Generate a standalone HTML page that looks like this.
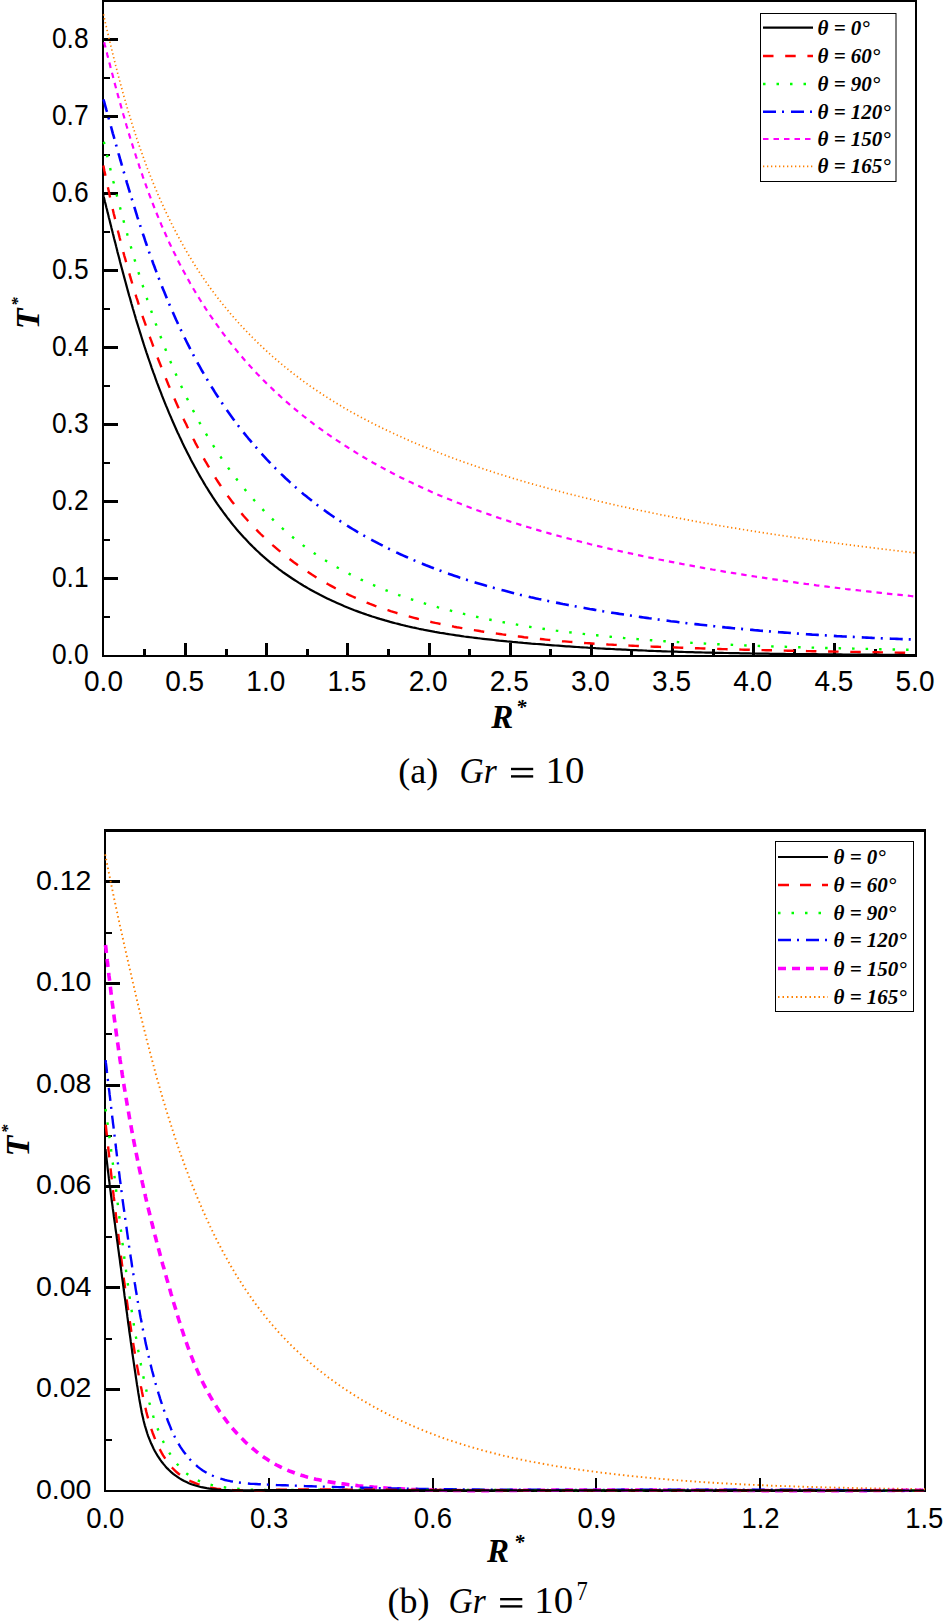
<!DOCTYPE html>
<html><head><meta charset="utf-8"><style>
html,body{margin:0;padding:0;background:#fff;width:943px;height:1621px;overflow:hidden}
svg{display:block}
</style></head><body>
<svg width="943" height="1621" viewBox="0 0 943 1621">
<rect width="943" height="1621" fill="#fff"/>
<rect x="102" y="0" width="815" height="2" fill="#000"/>
<rect x="102" y="0" width="2" height="657" fill="#000"/>
<rect x="915" y="0" width="2" height="657" fill="#000"/>
<rect x="102" y="655" width="815" height="2" fill="#000"/>
<rect x="104" y="616" width="6" height="2" fill="#000"/>
<rect x="104" y="577" width="14" height="3" fill="#000"/>
<rect x="104" y="539" width="6" height="2" fill="#000"/>
<rect x="104" y="500" width="14" height="3" fill="#000"/>
<rect x="104" y="462" width="6" height="2" fill="#000"/>
<rect x="104" y="423" width="14" height="3" fill="#000"/>
<rect x="104" y="385" width="6" height="2" fill="#000"/>
<rect x="104" y="346" width="14" height="3" fill="#000"/>
<rect x="104" y="308" width="6" height="2" fill="#000"/>
<rect x="104" y="269" width="14" height="3" fill="#000"/>
<rect x="104" y="231" width="6" height="2" fill="#000"/>
<rect x="104" y="192" width="14" height="3" fill="#000"/>
<rect x="104" y="154" width="6" height="2" fill="#000"/>
<rect x="104" y="115" width="14" height="3" fill="#000"/>
<rect x="104" y="77" width="6" height="2" fill="#000"/>
<rect x="104" y="38" width="14" height="3" fill="#000"/>
<rect x="143" y="649" width="3" height="6" fill="#000"/>
<rect x="184" y="643" width="3" height="12" fill="#000"/>
<rect x="225" y="649" width="3" height="6" fill="#000"/>
<rect x="265" y="643" width="3" height="12" fill="#000"/>
<rect x="306" y="649" width="3" height="6" fill="#000"/>
<rect x="346" y="643" width="3" height="12" fill="#000"/>
<rect x="387" y="649" width="3" height="6" fill="#000"/>
<rect x="428" y="643" width="3" height="12" fill="#000"/>
<rect x="468" y="649" width="3" height="6" fill="#000"/>
<rect x="509" y="643" width="3" height="12" fill="#000"/>
<rect x="549" y="649" width="3" height="6" fill="#000"/>
<rect x="590" y="643" width="3" height="12" fill="#000"/>
<rect x="630" y="649" width="3" height="6" fill="#000"/>
<rect x="671" y="643" width="3" height="12" fill="#000"/>
<rect x="712" y="649" width="3" height="6" fill="#000"/>
<rect x="752" y="643" width="3" height="12" fill="#000"/>
<rect x="793" y="649" width="3" height="6" fill="#000"/>
<rect x="833" y="643" width="3" height="12" fill="#000"/>
<rect x="874" y="649" width="3" height="6" fill="#000"/>
<text transform="translate(88.60 664.30) scale(1 1.12)" font-family="Liberation Sans, sans-serif" font-size="26.4" text-anchor="end">0.0</text>
<text transform="translate(88.60 587.23) scale(1 1.12)" font-family="Liberation Sans, sans-serif" font-size="26.4" text-anchor="end">0.1</text>
<text transform="translate(88.60 510.16) scale(1 1.12)" font-family="Liberation Sans, sans-serif" font-size="26.4" text-anchor="end">0.2</text>
<text transform="translate(88.60 433.09) scale(1 1.12)" font-family="Liberation Sans, sans-serif" font-size="26.4" text-anchor="end">0.3</text>
<text transform="translate(88.60 356.02) scale(1 1.12)" font-family="Liberation Sans, sans-serif" font-size="26.4" text-anchor="end">0.4</text>
<text transform="translate(88.60 278.95) scale(1 1.12)" font-family="Liberation Sans, sans-serif" font-size="26.4" text-anchor="end">0.5</text>
<text transform="translate(88.60 201.88) scale(1 1.12)" font-family="Liberation Sans, sans-serif" font-size="26.4" text-anchor="end">0.6</text>
<text transform="translate(88.60 124.81) scale(1 1.12)" font-family="Liberation Sans, sans-serif" font-size="26.4" text-anchor="end">0.7</text>
<text transform="translate(88.60 47.74) scale(1 1.12)" font-family="Liberation Sans, sans-serif" font-size="26.4" text-anchor="end">0.8</text>
<text transform="translate(103.50 690.80) scale(1 1.06)" font-family="Liberation Sans, sans-serif" font-size="28" text-anchor="middle">0.0</text>
<text transform="translate(184.65 690.80) scale(1 1.06)" font-family="Liberation Sans, sans-serif" font-size="28" text-anchor="middle">0.5</text>
<text transform="translate(265.80 690.80) scale(1 1.06)" font-family="Liberation Sans, sans-serif" font-size="28" text-anchor="middle">1.0</text>
<text transform="translate(346.95 690.80) scale(1 1.06)" font-family="Liberation Sans, sans-serif" font-size="28" text-anchor="middle">1.5</text>
<text transform="translate(428.10 690.80) scale(1 1.06)" font-family="Liberation Sans, sans-serif" font-size="28" text-anchor="middle">2.0</text>
<text transform="translate(509.25 690.80) scale(1 1.06)" font-family="Liberation Sans, sans-serif" font-size="28" text-anchor="middle">2.5</text>
<text transform="translate(590.40 690.80) scale(1 1.06)" font-family="Liberation Sans, sans-serif" font-size="28" text-anchor="middle">3.0</text>
<text transform="translate(671.55 690.80) scale(1 1.06)" font-family="Liberation Sans, sans-serif" font-size="28" text-anchor="middle">3.5</text>
<text transform="translate(752.70 690.80) scale(1 1.06)" font-family="Liberation Sans, sans-serif" font-size="28" text-anchor="middle">4.0</text>
<text transform="translate(833.85 690.80) scale(1 1.06)" font-family="Liberation Sans, sans-serif" font-size="28" text-anchor="middle">4.5</text>
<text transform="translate(915.00 690.80) scale(1 1.06)" font-family="Liberation Sans, sans-serif" font-size="28" text-anchor="middle">5.0</text>
<text x="491.3" y="728" font-family="Liberation Serif, serif" font-size="33" font-weight="bold" font-style="italic">R</text>
<text x="516" y="713.8" font-family="Liberation Serif, serif" font-size="21" font-weight="bold" font-style="italic">*</text>
<g transform="translate(39.3,329.3) rotate(-90)"><text x="0" y="0" font-family="Liberation Serif, serif" font-size="34" font-weight="bold" font-style="italic">T</text><text x="23.35" y="-16.15" font-family="Liberation Serif, serif" font-size="17.5" font-weight="bold" font-style="italic">*</text></g>
<path d="M103.5 14.3 L104.1 16.9 L104.6 19.5 L105.2 22.1 L105.8 24.6 L106.4 27.2 L107.0 29.8 L107.6 32.4 L108.2 35.0 L108.8 37.6 L109.5 40.1 L110.1 42.7 L110.7 45.3 L111.3 47.9 L112.0 50.5 L112.6 53.1 L113.2 55.7 L113.9 58.3 L114.5 60.9 L115.2 63.4 L115.8 66.0 L116.5 68.6 L117.2 71.2 L117.8 73.8 L118.5 76.4 L119.2 79.0 L119.9 81.6 L120.6 84.2 L121.3 86.8 L122.0 89.3 L122.7 91.9 L123.4 94.5 L124.1 97.1 L124.9 99.7 L125.6 102.3 L126.4 104.8 L127.1 107.4 L127.9 110.0 L128.6 112.6 L129.4 115.1 L130.2 117.7 L131.0 120.3 L131.8 122.9 L132.6 125.4 L133.4 128.0 L134.2 130.6 L135.0 133.1 L135.9 135.7 L136.7 138.2 L137.6 140.8 L138.4 143.3 L139.3 145.9 L140.2 148.4 L141.1 151.0 L142.0 153.5 L142.9 156.0 L143.8 158.6 L144.7 161.1 L145.6 163.6 L146.6 166.1 L147.5 168.7 L148.5 171.2 L149.5 173.7 L150.5 176.2 L151.5 178.7 L152.5 181.2 L153.5 183.7 L154.5 186.2 L155.5 188.7 L156.6 191.2 L157.6 193.6 L158.7 196.1 L159.8 198.6 L160.9 201.0 L162.0 203.5 L163.1 205.9 L164.2 208.4 L165.4 210.8 L166.5 213.3 L167.7 215.7 L168.8 218.1 L170.0 220.5 L171.2 222.9 L172.4 225.3 L173.6 227.7 L174.9 230.1 L176.1 232.5 L177.4 234.9 L178.6 237.2 L179.9 239.6 L181.2 242.0 L182.5 244.3 L183.8 246.6 L185.1 249.0 L186.5 251.3 L187.8 253.6 L189.2 255.9 L190.6 258.2 L192.0 260.5 L193.4 262.8 L194.8 265.0 L196.2 267.3 L197.7 269.6 L199.1 271.8 L200.6 274.0 L202.1 276.2 L203.6 278.5 L205.1 280.7 L206.6 282.9 L208.2 285.0 L209.7 287.2 L211.3 289.4 L212.9 291.5 L214.5 293.7 L216.1 295.8 L217.7 297.9 L219.4 300.0 L221.0 302.1 L222.7 304.2 L224.4 306.3 L226.1 308.4 L227.8 310.4 L229.5 312.5 L231.2 314.5 L233.0 316.5 L234.7 318.5 L236.5 320.5 L238.3 322.5 L240.1 324.5 L241.9 326.5 L243.7 328.4 L245.6 330.4 L247.4 332.3 L249.3 334.2 L251.2 336.1 L253.0 338.0 L254.9 339.9 L256.8 341.8 L258.8 343.7 L260.7 345.5 L262.6 347.3 L264.6 349.2 L266.6 351.0 L268.5 352.8 L270.5 354.6 L272.5 356.4 L274.5 358.1 L276.6 359.9 L278.6 361.6 L280.6 363.3 L282.7 365.1 L284.8 366.8 L286.8 368.4 L288.9 370.1 L291.0 371.8 L293.1 373.4 L295.2 375.1 L297.4 376.7 L299.5 378.3 L301.7 379.9 L303.8 381.5 L306.0 383.1 L308.2 384.6 L310.3 386.2 L312.5 387.7 L314.8 389.2 L317.0 390.7 L319.2 392.2 L321.4 393.7 L323.7 395.2 L325.9 396.6 L328.2 398.1 L330.4 399.5 L332.7 400.9 L335.0 402.3 L337.3 403.7 L339.6 405.1 L341.9 406.5 L344.2 407.9 L346.5 409.2 L348.9 410.5 L351.2 411.9 L353.6 413.2 L355.9 414.5 L358.3 415.8 L360.6 417.0 L363.0 418.3 L365.4 419.6 L367.8 420.8 L370.1 422.1 L372.5 423.3 L374.9 424.5 L377.4 425.7 L379.8 426.9 L382.2 428.1 L384.6 429.3 L387.0 430.4 L389.5 431.6 L391.9 432.7 L394.4 433.9 L396.8 435.0 L399.3 436.1 L401.7 437.2 L404.2 438.3 L406.7 439.4 L409.1 440.5 L411.6 441.6 L414.1 442.6 L416.6 443.7 L419.0 444.7 L421.5 445.8 L424.0 446.8 L426.5 447.8 L429.0 448.8 L431.5 449.8 L434.0 450.8 L436.5 451.8 L439.0 452.8 L441.5 453.8 L444.1 454.7 L446.6 455.7 L449.1 456.7 L451.6 457.6 L454.1 458.5 L456.7 459.5 L459.2 460.4 L461.7 461.3 L464.2 462.2 L466.8 463.1 L469.3 464.0 L471.9 464.9 L474.4 465.8 L476.9 466.6 L479.5 467.5 L482.0 468.4 L484.6 469.2 L487.1 470.1 L489.7 470.9 L492.2 471.7 L494.8 472.6 L497.3 473.4 L499.9 474.2 L502.5 475.0 L505.0 475.8 L507.6 476.6 L510.1 477.4 L512.7 478.2 L515.3 479.0 L517.8 479.7 L520.4 480.5 L523.0 481.3 L525.6 482.0 L528.1 482.8 L530.7 483.5 L533.3 484.2 L535.9 485.0 L538.5 485.7 L541.1 486.4 L543.6 487.1 L546.2 487.8 L548.8 488.6 L551.4 489.3 L554.0 489.9 L556.6 490.6 L559.2 491.3 L561.8 492.0 L564.4 492.7 L567.0 493.4 L569.6 494.0 L572.2 494.7 L574.8 495.3 L577.4 496.0 L580.0 496.6 L582.6 497.3 L585.2 497.9 L587.8 498.6 L590.4 499.2 L593.0 499.8 L595.6 500.4 L598.2 501.1 L600.8 501.7 L603.4 502.3 L606.1 502.9 L608.7 503.5 L611.3 504.1 L613.9 504.7 L616.5 505.3 L619.1 505.9 L621.8 506.5 L624.4 507.0 L627.0 507.6 L629.6 508.2 L632.2 508.8 L634.9 509.3 L637.5 509.9 L640.1 510.4 L642.7 511.0 L645.4 511.5 L648.0 512.1 L650.6 512.6 L653.2 513.2 L655.9 513.7 L658.5 514.2 L661.1 514.8 L663.8 515.3 L666.4 515.8 L669.0 516.3 L671.7 516.8 L674.3 517.4 L676.9 517.9 L679.6 518.4 L682.2 518.9 L684.8 519.4 L687.5 519.9 L690.1 520.4 L692.8 520.8 L695.4 521.3 L698.0 521.8 L700.7 522.3 L703.3 522.8 L706.0 523.2 L708.6 523.7 L711.3 524.2 L713.9 524.6 L716.5 525.1 L719.2 525.6 L721.8 526.0 L724.5 526.5 L727.1 526.9 L729.8 527.4 L732.4 527.8 L735.1 528.2 L737.7 528.7 L740.4 529.1 L743.0 529.5 L745.7 530.0 L748.3 530.4 L751.0 530.8 L753.6 531.2 L756.3 531.7 L758.9 532.1 L761.6 532.5 L764.2 532.9 L766.9 533.3 L769.6 533.7 L772.2 534.1 L774.9 534.5 L777.5 534.9 L780.2 535.3 L782.8 535.7 L785.5 536.1 L788.2 536.5 L790.8 536.9 L793.5 537.3 L796.1 537.7 L798.8 538.0 L801.4 538.4 L804.1 538.8 L806.8 539.2 L809.4 539.5 L812.1 539.9 L814.7 540.3 L817.4 540.6 L820.1 541.0 L822.7 541.4 L825.4 541.7 L828.1 542.1 L830.7 542.4 L833.4 542.8 L836.0 543.1 L838.7 543.5 L841.4 543.8 L844.0 544.2 L846.7 544.5 L849.4 544.9 L852.0 545.2 L854.7 545.6 L857.4 545.9 L860.0 546.2 L862.7 546.6 L865.4 546.9 L868.0 547.2 L870.7 547.6 L873.3 547.9 L876.0 548.2 L878.7 548.6 L881.3 548.9 L884.0 549.2 L886.7 549.5 L889.3 549.8 L892.0 550.2 L894.7 550.5 L897.3 550.8 L900.0 551.1 L902.7 551.4 L905.3 551.7 L908.0 552.1 L910.7 552.4 L913.3 552.7 L916.0 553.0" fill="none" stroke="#FF8000" stroke-width="1.7" stroke-dasharray="1.3 2.7" stroke-linejoin="round"/>
<path d="M104.2 42.2 L104.8 44.8 L105.5 47.4 L106.1 50.0 L106.8 52.5 L107.4 55.1 L108.1 57.7 L108.7 60.3 L109.4 62.8 L110.1 65.4 L110.7 68.0 L111.4 70.6 L112.1 73.2 L112.8 75.8 L113.4 78.4 L114.1 81.0 L114.8 83.6 L115.5 86.2 L116.2 88.8 L116.9 91.4 L117.6 94.0 L118.3 96.6 L119.0 99.2 L119.8 101.8 L120.5 104.4 L121.2 107.0 L121.9 109.6 L122.7 112.2 L123.4 114.8 L124.2 117.4 L124.9 120.0 L125.7 122.6 L126.4 125.2 L127.2 127.8 L128.0 130.4 L128.7 133.0 L129.5 135.6 L130.3 138.2 L131.1 140.8 L131.9 143.4 L132.7 145.9 L133.5 148.5 L134.4 151.1 L135.2 153.7 L136.0 156.3 L136.9 158.9 L137.7 161.5 L138.6 164.0 L139.4 166.6 L140.3 169.2 L141.2 171.8 L142.1 174.3 L142.9 176.9 L143.9 179.5 L144.8 182.0 L145.7 184.6 L146.6 187.2 L147.5 189.7 L148.5 192.3 L149.4 194.8 L150.4 197.4 L151.4 199.9 L152.3 202.4 L153.3 205.0 L154.3 207.5 L155.3 210.0 L156.3 212.5 L157.3 215.0 L158.4 217.6 L159.4 220.1 L160.5 222.6 L161.5 225.1 L162.6 227.6 L163.7 230.0 L164.8 232.5 L165.9 235.0 L167.0 237.5 L168.1 239.9 L169.2 242.4 L170.4 244.9 L171.5 247.3 L172.7 249.8 L173.9 252.2 L175.1 254.6 L176.3 257.0 L177.5 259.5 L178.7 261.9 L179.9 264.3 L181.2 266.7 L182.4 269.1 L183.7 271.5 L185.0 273.8 L186.3 276.2 L187.6 278.6 L188.9 280.9 L190.2 283.3 L191.6 285.6 L192.9 288.0 L194.3 290.3 L195.7 292.6 L197.1 294.9 L198.5 297.2 L199.9 299.5 L201.4 301.8 L202.8 304.1 L204.3 306.4 L205.7 308.6 L207.2 310.9 L208.7 313.1 L210.2 315.4 L211.8 317.6 L213.3 319.8 L214.8 322.0 L216.4 324.2 L218.0 326.4 L219.6 328.6 L221.2 330.8 L222.8 333.0 L224.4 335.1 L226.0 337.3 L227.7 339.4 L229.3 341.5 L231.0 343.6 L232.7 345.7 L234.4 347.8 L236.1 349.9 L237.8 352.0 L239.6 354.1 L241.3 356.1 L243.1 358.2 L244.8 360.2 L246.6 362.2 L248.4 364.2 L250.2 366.3 L252.1 368.2 L253.9 370.2 L255.7 372.2 L257.6 374.2 L259.5 376.1 L261.3 378.0 L263.2 380.0 L265.1 381.9 L267.0 383.8 L269.0 385.7 L270.9 387.5 L272.9 389.4 L274.8 391.3 L276.8 393.1 L278.8 394.9 L280.8 396.8 L282.8 398.6 L284.8 400.4 L286.8 402.1 L288.9 403.9 L290.9 405.7 L293.0 407.4 L295.0 409.2 L297.1 410.9 L299.2 412.6 L301.3 414.3 L303.4 416.0 L305.6 417.7 L307.7 419.3 L309.8 421.0 L312.0 422.6 L314.1 424.3 L316.3 425.9 L318.5 427.5 L320.7 429.1 L322.9 430.7 L325.1 432.2 L327.3 433.8 L329.5 435.3 L331.7 436.9 L334.0 438.4 L336.2 439.9 L338.5 441.4 L340.7 442.9 L343.0 444.4 L345.3 445.9 L347.6 447.3 L349.9 448.8 L352.2 450.2 L354.5 451.6 L356.8 453.1 L359.1 454.5 L361.4 455.9 L363.7 457.2 L366.1 458.6 L368.4 460.0 L370.8 461.3 L373.1 462.7 L375.5 464.0 L377.8 465.3 L380.2 466.6 L382.6 467.9 L385.0 469.2 L387.3 470.5 L389.7 471.7 L392.1 473.0 L394.5 474.2 L396.9 475.5 L399.3 476.7 L401.7 477.9 L404.2 479.1 L406.6 480.3 L409.0 481.5 L411.5 482.6 L413.9 483.8 L416.3 484.9 L418.8 486.1 L421.2 487.2 L423.7 488.3 L426.1 489.5 L428.6 490.6 L431.1 491.7 L433.6 492.8 L436.0 493.8 L438.5 494.9 L441.0 496.0 L443.5 497.0 L446.0 498.0 L448.5 499.1 L451.0 500.1 L453.5 501.1 L456.0 502.1 L458.5 503.1 L461.0 504.1 L463.5 505.1 L466.1 506.1 L468.6 507.0 L471.1 508.0 L473.7 508.9 L476.2 509.9 L478.7 510.8 L481.3 511.7 L483.8 512.6 L486.4 513.5 L488.9 514.4 L491.5 515.3 L494.0 516.2 L496.6 517.1 L499.2 518.0 L501.7 518.8 L504.3 519.7 L506.9 520.5 L509.5 521.4 L512.0 522.2 L514.6 523.0 L517.2 523.8 L519.8 524.6 L522.4 525.5 L525.0 526.3 L527.6 527.0 L530.2 527.8 L532.8 528.6 L535.4 529.4 L538.0 530.1 L540.6 530.9 L543.2 531.6 L545.8 532.4 L548.4 533.1 L551.0 533.9 L553.6 534.6 L556.3 535.3 L558.9 536.0 L561.5 536.7 L564.1 537.4 L566.7 538.1 L569.4 538.8 L572.0 539.5 L574.6 540.2 L577.2 540.9 L579.9 541.5 L582.5 542.2 L585.1 542.9 L587.8 543.5 L590.4 544.2 L593.1 544.8 L595.7 545.5 L598.3 546.1 L601.0 546.7 L603.6 547.3 L606.3 548.0 L608.9 548.6 L611.5 549.2 L614.2 549.8 L616.8 550.4 L619.5 551.0 L622.1 551.6 L624.8 552.2 L627.4 552.8 L630.1 553.3 L632.7 553.9 L635.4 554.5 L638.0 555.1 L640.7 555.6 L643.3 556.2 L646.0 556.7 L648.6 557.3 L651.3 557.8 L653.9 558.4 L656.6 558.9 L659.2 559.5 L661.9 560.0 L664.5 560.5 L667.2 561.1 L669.8 561.6 L672.5 562.1 L675.1 562.6 L677.8 563.1 L680.4 563.6 L683.1 564.2 L685.7 564.7 L688.4 565.2 L691.1 565.6 L693.7 566.1 L696.4 566.6 L699.0 567.1 L701.7 567.6 L704.3 568.1 L707.0 568.5 L709.7 569.0 L712.3 569.5 L715.0 569.9 L717.6 570.4 L720.3 570.9 L723.0 571.3 L725.6 571.8 L728.3 572.2 L730.9 572.7 L733.6 573.1 L736.3 573.5 L738.9 574.0 L741.6 574.4 L744.3 574.8 L746.9 575.3 L749.6 575.7 L752.2 576.1 L754.9 576.5 L757.6 576.9 L760.3 577.3 L762.9 577.7 L765.6 578.1 L768.3 578.6 L770.9 578.9 L773.6 579.3 L776.3 579.7 L778.9 580.1 L781.6 580.5 L784.3 580.9 L787.0 581.3 L789.6 581.7 L792.3 582.0 L795.0 582.4 L797.7 582.8 L800.3 583.1 L803.0 583.5 L805.7 583.9 L808.4 584.2 L811.1 584.6 L813.7 584.9 L816.4 585.3 L819.1 585.6 L821.8 586.0 L824.5 586.3 L827.1 586.6 L829.8 587.0 L832.5 587.3 L835.2 587.7 L837.9 588.0 L840.6 588.3 L843.3 588.6 L846.0 589.0 L848.6 589.3 L851.3 589.6 L854.0 589.9 L856.7 590.2 L859.4 590.5 L862.1 590.8 L864.8 591.1 L867.5 591.4 L870.2 591.7 L872.9 592.0 L875.6 592.3 L878.3 592.6 L881.0 592.9 L883.7 593.2 L886.4 593.5 L889.1 593.8 L891.8 594.1 L894.5 594.3 L897.2 594.6 L899.9 594.9 L902.6 595.2 L905.3 595.4 L908.0 595.7 L910.7 596.0 L913.4 596.3 L916.2 596.5" fill="none" stroke="#FF00FF" stroke-width="2.2" stroke-dasharray="5.5 5" stroke-linejoin="round"/>
<path d="M103.4 99.3 L104.2 101.9 L104.9 104.5 L105.6 107.1 L106.3 109.7 L107.1 112.3 L107.8 114.9 L108.5 117.6 L109.2 120.2 L109.9 122.8 L110.7 125.4 L111.4 128.0 L112.1 130.6 L112.8 133.3 L113.6 135.9 L114.3 138.5 L115.0 141.1 L115.8 143.8 L116.5 146.4 L117.2 149.0 L118.0 151.6 L118.7 154.2 L119.5 156.9 L120.2 159.5 L121.0 162.1 L121.7 164.7 L122.5 167.4 L123.2 170.0 L124.0 172.6 L124.7 175.2 L125.5 177.8 L126.3 180.5 L127.0 183.1 L127.8 185.7 L128.6 188.3 L129.4 190.9 L130.2 193.6 L131.0 196.2 L131.8 198.8 L132.6 201.4 L133.4 204.0 L134.2 206.6 L135.0 209.2 L135.8 211.8 L136.6 214.4 L137.4 217.1 L138.3 219.7 L139.1 222.3 L140.0 224.9 L140.8 227.5 L141.7 230.1 L142.5 232.7 L143.4 235.3 L144.3 237.8 L145.1 240.4 L146.0 243.0 L146.9 245.6 L147.8 248.2 L148.7 250.8 L149.6 253.4 L150.5 255.9 L151.5 258.5 L152.4 261.1 L153.3 263.7 L154.3 266.2 L155.2 268.8 L156.2 271.4 L157.2 273.9 L158.1 276.5 L159.1 279.0 L160.1 281.6 L161.1 284.1 L162.1 286.7 L163.1 289.2 L164.2 291.8 L165.2 294.3 L166.2 296.8 L167.3 299.4 L168.3 301.9 L169.4 304.4 L170.5 306.9 L171.6 309.4 L172.7 312.0 L173.8 314.5 L174.9 317.0 L176.0 319.5 L177.2 322.0 L178.3 324.5 L179.5 326.9 L180.6 329.4 L181.8 331.9 L183.0 334.4 L184.2 336.8 L185.4 339.3 L186.6 341.8 L187.8 344.2 L189.1 346.7 L190.3 349.1 L191.6 351.5 L192.8 353.9 L194.1 356.4 L195.4 358.8 L196.7 361.2 L198.0 363.6 L199.4 366.0 L200.7 368.4 L202.0 370.8 L203.4 373.1 L204.8 375.5 L206.2 377.9 L207.6 380.2 L209.0 382.6 L210.4 384.9 L211.8 387.2 L213.3 389.5 L214.7 391.9 L216.2 394.2 L217.7 396.5 L219.2 398.7 L220.7 401.0 L222.2 403.3 L223.7 405.6 L225.3 407.8 L226.8 410.1 L228.4 412.3 L230.0 414.5 L231.6 416.7 L233.2 418.9 L234.8 421.1 L236.5 423.3 L238.1 425.5 L239.8 427.7 L241.5 429.8 L243.2 432.0 L244.9 434.1 L246.6 436.2 L248.3 438.3 L250.1 440.4 L251.8 442.5 L253.6 444.6 L255.4 446.7 L257.2 448.7 L259.0 450.8 L260.8 452.8 L262.6 454.8 L264.5 456.9 L266.3 458.9 L268.2 460.8 L270.1 462.8 L272.0 464.8 L273.9 466.7 L275.8 468.7 L277.7 470.6 L279.7 472.5 L281.6 474.4 L283.6 476.3 L285.6 478.2 L287.6 480.0 L289.6 481.9 L291.6 483.7 L293.6 485.5 L295.6 487.3 L297.7 489.1 L299.8 490.9 L301.8 492.6 L303.9 494.4 L306.0 496.1 L308.1 497.8 L310.3 499.5 L312.4 501.2 L314.5 502.9 L316.7 504.6 L318.9 506.2 L321.0 507.8 L323.2 509.4 L325.4 511.0 L327.6 512.6 L329.9 514.2 L332.1 515.7 L334.3 517.3 L336.6 518.8 L338.9 520.3 L341.1 521.8 L343.4 523.3 L345.7 524.7 L348.0 526.2 L350.3 527.6 L352.6 529.0 L355.0 530.4 L357.3 531.8 L359.7 533.2 L362.0 534.6 L364.4 535.9 L366.8 537.2 L369.2 538.6 L371.6 539.9 L374.0 541.2 L376.4 542.4 L378.8 543.7 L381.2 544.9 L383.6 546.2 L386.1 547.4 L388.5 548.6 L391.0 549.8 L393.4 551.0 L395.9 552.2 L398.4 553.3 L400.9 554.5 L403.4 555.6 L405.9 556.7 L408.4 557.8 L410.9 558.9 L413.4 560.0 L415.9 561.1 L418.4 562.2 L420.9 563.2 L423.5 564.2 L426.0 565.3 L428.6 566.3 L431.1 567.3 L433.7 568.2 L436.2 569.2 L438.8 570.2 L441.4 571.1 L443.9 572.1 L446.5 573.0 L449.1 573.9 L451.7 574.8 L454.3 575.7 L456.9 576.6 L459.5 577.5 L462.1 578.3 L464.7 579.2 L467.3 580.0 L469.9 580.8 L472.5 581.6 L475.1 582.4 L477.7 583.2 L480.4 584.0 L483.0 584.8 L485.6 585.6 L488.2 586.3 L490.9 587.1 L493.5 587.8 L496.1 588.5 L498.8 589.2 L501.4 590.0 L504.1 590.6 L506.7 591.3 L509.4 592.0 L512.0 592.7 L514.7 593.4 L517.3 594.0 L520.0 594.7 L522.7 595.3 L525.3 595.9 L528.0 596.5 L530.7 597.2 L533.3 597.8 L536.0 598.4 L538.7 599.0 L541.4 599.5 L544.0 600.1 L546.7 600.7 L549.4 601.3 L552.1 601.8 L554.8 602.4 L557.4 602.9 L560.1 603.4 L562.8 604.0 L565.5 604.5 L568.2 605.0 L570.9 605.5 L573.6 606.0 L576.3 606.5 L579.0 607.0 L581.7 607.5 L584.4 608.0 L587.0 608.5 L589.7 609.0 L592.4 609.4 L595.1 609.9 L597.8 610.3 L600.5 610.8 L603.2 611.3 L605.9 611.7 L608.6 612.1 L611.3 612.6 L614.0 613.0 L616.7 613.4 L619.4 613.9 L622.1 614.3 L624.8 614.7 L627.6 615.1 L630.3 615.5 L633.0 615.9 L635.7 616.3 L638.4 616.7 L641.1 617.1 L643.8 617.5 L646.5 617.9 L649.2 618.3 L651.9 618.6 L654.6 619.0 L657.3 619.4 L660.0 619.7 L662.7 620.1 L665.4 620.5 L668.1 620.8 L670.8 621.2 L673.6 621.5 L676.3 621.8 L679.0 622.2 L681.7 622.5 L684.4 622.8 L687.1 623.2 L689.8 623.5 L692.5 623.8 L695.2 624.1 L698.0 624.4 L700.7 624.7 L703.4 625.0 L706.1 625.3 L708.8 625.6 L711.5 625.9 L714.2 626.2 L717.0 626.5 L719.7 626.8 L722.4 627.1 L725.1 627.4 L727.8 627.6 L730.5 627.9 L733.2 628.2 L736.0 628.4 L738.7 628.7 L741.4 628.9 L744.1 629.2 L746.8 629.4 L749.6 629.7 L752.3 629.9 L755.0 630.2 L757.7 630.4 L760.4 630.7 L763.2 630.9 L765.9 631.1 L768.6 631.3 L771.3 631.6 L774.0 631.8 L776.8 632.0 L779.5 632.2 L782.2 632.4 L784.9 632.6 L787.7 632.8 L790.4 633.0 L793.1 633.2 L795.8 633.4 L798.6 633.6 L801.3 633.8 L804.0 634.0 L806.7 634.2 L809.5 634.4 L812.2 634.6 L814.9 634.7 L817.6 634.9 L820.4 635.1 L823.1 635.2 L825.8 635.4 L828.6 635.6 L831.3 635.7 L834.0 635.9 L836.7 636.1 L839.5 636.2 L842.2 636.4 L844.9 636.5 L847.7 636.7 L850.4 636.8 L853.1 636.9 L855.9 637.1 L858.6 637.2 L861.3 637.4 L864.1 637.5 L866.8 637.6 L869.5 637.7 L872.3 637.9 L875.0 638.0 L877.7 638.1 L880.5 638.2 L883.2 638.4 L885.9 638.5 L888.7 638.6 L891.4 638.7 L894.1 638.8 L896.9 638.9 L899.6 639.0 L902.4 639.1 L905.1 639.2 L907.8 639.3 L910.6 639.4 L913.3 639.5 L916.1 639.6" fill="none" stroke="#0000FF" stroke-width="2.6" stroke-dasharray="13 6 2 7" stroke-linejoin="round"/>
<path d="M103.8 141.7 L104.5 144.4 L105.1 147.0 L105.7 149.7 L106.3 152.4 L107.0 155.0 L107.6 157.7 L108.2 160.3 L108.9 163.0 L109.5 165.6 L110.2 168.3 L110.8 171.0 L111.4 173.6 L112.1 176.3 L112.8 178.9 L113.4 181.6 L114.1 184.2 L114.7 186.9 L115.4 189.5 L116.1 192.2 L116.7 194.8 L117.4 197.5 L118.1 200.1 L118.8 202.7 L119.5 205.4 L120.2 208.0 L120.9 210.7 L121.6 213.3 L122.3 215.9 L123.0 218.6 L123.7 221.2 L124.4 223.9 L125.1 226.5 L125.9 229.1 L126.6 231.8 L127.3 234.4 L128.1 237.0 L128.8 239.6 L129.6 242.3 L130.3 244.9 L131.1 247.5 L131.8 250.1 L132.6 252.8 L133.4 255.4 L134.1 258.0 L134.9 260.6 L135.7 263.2 L136.5 265.8 L137.3 268.4 L138.1 271.1 L138.9 273.7 L139.7 276.3 L140.6 278.9 L141.4 281.5 L142.2 284.1 L143.1 286.7 L143.9 289.3 L144.8 291.9 L145.6 294.5 L146.5 297.0 L147.3 299.6 L148.2 302.2 L149.1 304.8 L150.0 307.4 L150.9 310.0 L151.8 312.5 L152.7 315.1 L153.6 317.7 L154.5 320.3 L155.4 322.8 L156.4 325.4 L157.3 328.0 L158.3 330.5 L159.2 333.1 L160.2 335.6 L161.2 338.2 L162.1 340.7 L163.1 343.3 L164.1 345.8 L165.1 348.4 L166.1 350.9 L167.1 353.5 L168.2 356.0 L169.2 358.5 L170.2 361.0 L171.3 363.6 L172.3 366.1 L173.4 368.6 L174.5 371.1 L175.6 373.6 L176.7 376.1 L177.8 378.6 L178.9 381.1 L180.0 383.6 L181.2 386.1 L182.3 388.5 L183.5 391.0 L184.7 393.5 L185.9 395.9 L187.0 398.4 L188.3 400.8 L189.5 403.3 L190.7 405.7 L191.9 408.1 L193.2 410.6 L194.5 413.0 L195.7 415.4 L197.0 417.8 L198.3 420.2 L199.6 422.6 L201.0 425.0 L202.3 427.3 L203.7 429.7 L205.0 432.1 L206.4 434.4 L207.8 436.8 L209.2 439.1 L210.7 441.5 L212.1 443.8 L213.6 446.1 L215.0 448.4 L216.5 450.7 L218.0 453.0 L219.5 455.3 L221.1 457.6 L222.6 459.8 L224.2 462.1 L225.7 464.3 L227.3 466.6 L228.9 468.8 L230.5 471.0 L232.2 473.2 L233.8 475.4 L235.5 477.6 L237.1 479.8 L238.8 481.9 L240.5 484.1 L242.3 486.2 L244.0 488.3 L245.7 490.4 L247.5 492.5 L249.3 494.6 L251.1 496.7 L252.9 498.8 L254.7 500.8 L256.5 502.8 L258.4 504.9 L260.3 506.9 L262.1 508.8 L264.0 510.8 L265.9 512.8 L267.9 514.7 L269.8 516.6 L271.8 518.5 L273.7 520.4 L275.7 522.3 L277.7 524.2 L279.7 526.0 L281.7 527.8 L283.8 529.6 L285.8 531.4 L287.9 533.2 L290.0 535.0 L292.1 536.7 L294.2 538.4 L296.3 540.1 L298.4 541.8 L300.6 543.4 L302.7 545.1 L304.9 546.7 L307.1 548.3 L309.3 549.9 L311.5 551.4 L313.8 553.0 L316.0 554.5 L318.3 556.0 L320.6 557.4 L322.8 558.9 L325.1 560.3 L327.5 561.8 L329.8 563.1 L332.1 564.5 L334.5 565.9 L336.8 567.2 L339.2 568.5 L341.6 569.8 L344.0 571.1 L346.4 572.4 L348.8 573.6 L351.2 574.9 L353.7 576.1 L356.1 577.3 L358.6 578.4 L361.0 579.6 L363.5 580.7 L366.0 581.9 L368.5 583.0 L371.0 584.1 L373.5 585.1 L376.0 586.2 L378.5 587.2 L381.1 588.3 L383.6 589.3 L386.1 590.3 L388.7 591.3 L391.3 592.2 L393.8 593.2 L396.4 594.1 L399.0 595.1 L401.6 596.0 L404.1 596.9 L406.7 597.8 L409.3 598.6 L412.0 599.5 L414.6 600.3 L417.2 601.2 L419.8 602.0 L422.4 602.8 L425.0 603.6 L427.7 604.4 L430.3 605.1 L432.9 605.9 L435.6 606.6 L438.2 607.4 L440.9 608.1 L443.5 608.8 L446.2 609.5 L448.8 610.2 L451.5 610.9 L454.1 611.6 L456.8 612.2 L459.4 612.9 L462.1 613.5 L464.8 614.2 L467.4 614.8 L470.1 615.4 L472.8 616.0 L475.4 616.6 L478.1 617.2 L480.8 617.8 L483.5 618.3 L486.1 618.9 L488.8 619.4 L491.5 620.0 L494.2 620.5 L496.8 621.0 L499.5 621.5 L502.2 622.0 L504.9 622.5 L507.6 623.0 L510.3 623.5 L513.0 624.0 L515.6 624.4 L518.3 624.9 L521.0 625.3 L523.7 625.8 L526.4 626.2 L529.1 626.7 L531.8 627.1 L534.5 627.5 L537.2 627.9 L539.9 628.3 L542.6 628.7 L545.3 629.1 L548.0 629.5 L550.7 629.8 L553.4 630.2 L556.1 630.6 L558.8 630.9 L561.5 631.3 L564.2 631.6 L567.0 631.9 L569.7 632.3 L572.4 632.6 L575.1 632.9 L577.8 633.3 L580.5 633.6 L583.2 633.9 L585.9 634.2 L588.6 634.5 L591.4 634.8 L594.1 635.1 L596.8 635.3 L599.5 635.6 L602.2 635.9 L604.9 636.2 L607.7 636.4 L610.4 636.7 L613.1 637.0 L615.8 637.2 L618.5 637.5 L621.2 637.7 L624.0 638.0 L626.7 638.2 L629.4 638.4 L632.1 638.7 L634.8 638.9 L637.6 639.1 L640.3 639.3 L643.0 639.5 L645.7 639.8 L648.5 640.0 L651.2 640.2 L653.9 640.4 L656.6 640.6 L659.4 640.8 L662.1 641.0 L664.8 641.2 L667.5 641.3 L670.3 641.5 L673.0 641.7 L675.7 641.9 L678.4 642.1 L681.2 642.2 L683.9 642.4 L686.6 642.6 L689.3 642.7 L692.1 642.9 L694.8 643.0 L697.5 643.2 L700.2 643.3 L703.0 643.5 L705.7 643.6 L708.4 643.8 L711.2 643.9 L713.9 644.1 L716.6 644.2 L719.3 644.3 L722.1 644.4 L724.8 644.6 L727.5 644.7 L730.3 644.8 L733.0 644.9 L735.7 645.1 L738.5 645.2 L741.2 645.3 L743.9 645.4 L746.6 645.5 L749.4 645.6 L752.1 645.7 L754.8 645.8 L757.6 645.9 L760.3 646.0 L763.0 646.1 L765.8 646.2 L768.5 646.3 L771.2 646.4 L774.0 646.5 L776.7 646.6 L779.4 646.7 L782.2 646.8 L784.9 646.8 L787.6 646.9 L790.4 647.0 L793.1 647.1 L795.8 647.2 L798.6 647.3 L801.3 647.3 L804.0 647.4 L806.7 647.5 L809.5 647.5 L812.2 647.6 L814.9 647.7 L817.7 647.8 L820.4 647.8 L823.1 647.9 L825.9 648.0 L828.6 648.0 L831.3 648.1 L834.1 648.2 L836.8 648.2 L839.5 648.3 L842.3 648.4 L845.0 648.4 L847.7 648.5 L850.5 648.5 L853.2 648.6 L855.9 648.7 L858.7 648.7 L861.4 648.8 L864.1 648.8 L866.8 648.9 L869.6 648.9 L872.3 649.0 L875.0 649.1 L877.8 649.1 L880.5 649.2 L883.2 649.2 L886.0 649.3 L888.7 649.4 L891.4 649.4 L894.1 649.5 L896.9 649.5 L899.6 649.6 L902.3 649.6 L905.1 649.7 L907.8 649.8 L910.5 649.8 L913.2 649.9 L916.0 649.9" fill="none" stroke="#00FF00" stroke-width="2.4" stroke-dasharray="2.5 11" stroke-linejoin="round"/>
<path d="M103.4 165.5 L103.9 168.2 L104.4 170.9 L105.0 173.5 L105.5 176.2 L106.1 178.9 L106.7 181.5 L107.2 184.2 L107.8 186.9 L108.4 189.5 L109.0 192.2 L109.5 194.8 L110.1 197.5 L110.7 200.2 L111.3 202.8 L111.9 205.5 L112.5 208.1 L113.1 210.8 L113.7 213.5 L114.4 216.1 L115.0 218.8 L115.6 221.4 L116.3 224.1 L116.9 226.7 L117.6 229.4 L118.2 232.0 L118.9 234.7 L119.5 237.3 L120.2 239.9 L120.9 242.6 L121.6 245.2 L122.2 247.9 L122.9 250.5 L123.6 253.1 L124.3 255.8 L125.1 258.4 L125.8 261.0 L126.5 263.6 L127.2 266.3 L128.0 268.9 L128.7 271.5 L129.5 274.1 L130.2 276.7 L131.0 279.4 L131.8 282.0 L132.5 284.6 L133.3 287.2 L134.1 289.8 L134.9 292.4 L135.7 295.0 L136.5 297.6 L137.4 300.2 L138.2 302.8 L139.0 305.4 L139.9 308.0 L140.7 310.5 L141.6 313.1 L142.4 315.7 L143.3 318.3 L144.2 320.9 L145.1 323.4 L146.0 326.0 L146.9 328.6 L147.8 331.1 L148.7 333.7 L149.6 336.3 L150.5 338.8 L151.5 341.4 L152.4 343.9 L153.3 346.5 L154.3 349.1 L155.3 351.6 L156.2 354.1 L157.2 356.7 L158.2 359.2 L159.2 361.8 L160.2 364.3 L161.2 366.8 L162.2 369.4 L163.2 371.9 L164.2 374.4 L165.2 376.9 L166.3 379.5 L167.3 382.0 L168.3 384.5 L169.4 387.0 L170.5 389.5 L171.5 392.0 L172.6 394.5 L173.7 397.0 L174.8 399.5 L175.9 402.0 L177.0 404.5 L178.1 407.0 L179.2 409.5 L180.4 412.0 L181.5 414.4 L182.7 416.9 L183.8 419.4 L185.0 421.9 L186.2 424.3 L187.3 426.8 L188.5 429.2 L189.7 431.7 L190.9 434.1 L192.2 436.6 L193.4 439.0 L194.7 441.4 L195.9 443.9 L197.2 446.3 L198.5 448.7 L199.7 451.1 L201.1 453.5 L202.4 455.8 L203.7 458.2 L205.0 460.6 L206.4 462.9 L207.8 465.3 L209.2 467.6 L210.6 470.0 L212.0 472.3 L213.4 474.6 L214.9 476.9 L216.3 479.2 L217.8 481.5 L219.3 483.7 L220.8 486.0 L222.3 488.2 L223.9 490.5 L225.5 492.7 L227.0 494.9 L228.6 497.1 L230.3 499.3 L231.9 501.4 L233.6 503.6 L235.2 505.7 L236.9 507.8 L238.6 509.9 L240.4 512.0 L242.1 514.1 L243.9 516.2 L245.7 518.2 L247.5 520.2 L249.3 522.2 L251.1 524.2 L253.0 526.2 L254.9 528.2 L256.8 530.1 L258.7 532.1 L260.6 534.0 L262.6 535.9 L264.6 537.7 L266.5 539.6 L268.5 541.4 L270.6 543.3 L272.6 545.1 L274.7 546.9 L276.7 548.6 L278.8 550.4 L280.9 552.1 L283.0 553.8 L285.2 555.5 L287.3 557.2 L289.5 558.9 L291.6 560.5 L293.8 562.2 L296.0 563.8 L298.2 565.4 L300.5 566.9 L302.7 568.5 L305.0 570.0 L307.2 571.5 L309.5 573.0 L311.8 574.5 L314.1 575.9 L316.4 577.4 L318.8 578.8 L321.1 580.2 L323.5 581.6 L325.8 582.9 L328.2 584.3 L330.6 585.6 L333.0 586.9 L335.4 588.2 L337.8 589.4 L340.2 590.7 L342.7 591.9 L345.1 593.1 L347.6 594.2 L350.0 595.4 L352.5 596.5 L355.0 597.6 L357.5 598.7 L360.0 599.8 L362.5 600.9 L365.0 601.9 L367.5 602.9 L370.0 603.9 L372.6 604.8 L375.1 605.8 L377.7 606.7 L380.2 607.6 L382.8 608.5 L385.4 609.4 L388.0 610.2 L390.6 611.1 L393.1 611.9 L395.7 612.7 L398.3 613.5 L401.0 614.2 L403.6 615.0 L406.2 615.7 L408.8 616.4 L411.4 617.1 L414.1 617.8 L416.7 618.5 L419.4 619.2 L422.0 619.8 L424.7 620.5 L427.3 621.1 L430.0 621.7 L432.6 622.3 L435.3 622.9 L437.9 623.4 L440.6 624.0 L443.3 624.6 L446.0 625.1 L448.6 625.6 L451.3 626.1 L454.0 626.7 L456.7 627.2 L459.3 627.6 L462.0 628.1 L464.7 628.6 L467.4 629.1 L470.1 629.5 L472.8 630.0 L475.5 630.4 L478.2 630.8 L480.9 631.3 L483.6 631.7 L486.3 632.1 L489.0 632.5 L491.7 632.9 L494.4 633.3 L497.1 633.6 L499.8 634.0 L502.5 634.4 L505.2 634.7 L507.9 635.1 L510.6 635.5 L513.3 635.8 L516.0 636.2 L518.7 636.5 L521.4 636.8 L524.1 637.2 L526.8 637.5 L529.5 637.8 L532.2 638.1 L534.9 638.4 L537.6 638.7 L540.3 639.0 L543.0 639.3 L545.7 639.6 L548.5 639.9 L551.2 640.1 L553.9 640.4 L556.6 640.7 L559.3 640.9 L562.0 641.2 L564.7 641.4 L567.4 641.6 L570.1 641.9 L572.9 642.1 L575.6 642.3 L578.3 642.5 L581.0 642.7 L583.7 642.9 L586.4 643.1 L589.2 643.3 L591.9 643.5 L594.6 643.7 L597.3 643.8 L600.0 644.0 L602.7 644.2 L605.5 644.3 L608.2 644.5 L610.9 644.6 L613.6 644.8 L616.3 644.9 L619.1 645.1 L621.8 645.2 L624.5 645.3 L627.2 645.5 L630.0 645.6 L632.7 645.7 L635.4 645.9 L638.1 646.0 L640.8 646.1 L643.6 646.2 L646.3 646.3 L649.0 646.5 L651.7 646.6 L654.5 646.7 L657.2 646.8 L659.9 646.9 L662.6 647.0 L665.3 647.1 L668.1 647.2 L670.8 647.3 L673.5 647.4 L676.2 647.5 L679.0 647.6 L681.7 647.7 L684.4 647.8 L687.1 647.9 L689.9 648.0 L692.6 648.1 L695.3 648.2 L698.0 648.3 L700.7 648.4 L703.5 648.5 L706.2 648.6 L708.9 648.6 L711.6 648.7 L714.4 648.8 L717.1 648.9 L719.8 649.0 L722.5 649.1 L725.3 649.1 L728.0 649.2 L730.7 649.3 L733.4 649.4 L736.2 649.4 L738.9 649.5 L741.6 649.6 L744.3 649.7 L747.1 649.7 L749.8 649.8 L752.5 649.9 L755.2 649.9 L758.0 650.0 L760.7 650.1 L763.4 650.1 L766.1 650.2 L768.9 650.3 L771.6 650.3 L774.3 650.4 L777.0 650.4 L779.8 650.5 L782.5 650.6 L785.2 650.6 L787.9 650.7 L790.7 650.7 L793.4 650.8 L796.1 650.8 L798.8 650.9 L801.6 650.9 L804.3 651.0 L807.0 651.1 L809.7 651.1 L812.5 651.2 L815.2 651.2 L817.9 651.3 L820.6 651.3 L823.4 651.4 L826.1 651.4 L828.8 651.5 L831.5 651.5 L834.3 651.6 L837.0 651.6 L839.7 651.7 L842.4 651.7 L845.2 651.8 L847.9 651.8 L850.6 651.9 L853.3 651.9 L856.1 651.9 L858.8 652.0 L861.5 652.0 L864.2 652.1 L867.0 652.1 L869.7 652.2 L872.4 652.2 L875.1 652.3 L877.9 652.3 L880.6 652.4 L883.3 652.4 L886.0 652.5 L888.8 652.5 L891.5 652.6 L894.2 652.6 L896.9 652.6 L899.6 652.7 L902.4 652.7 L905.1 652.8 L907.8 652.8 L910.5 652.9 L913.3 652.9 L916.0 653.0" fill="none" stroke="#FF0000" stroke-width="2.4" stroke-dasharray="10.5 11.7" stroke-linejoin="round"/>
<path d="M103.1 194.2 L103.7 196.8 L104.4 199.4 L105.0 202.0 L105.7 204.6 L106.3 207.2 L107.0 209.8 L107.6 212.4 L108.3 215.0 L108.9 217.7 L109.6 220.3 L110.2 222.9 L110.9 225.5 L111.5 228.1 L112.2 230.7 L112.8 233.3 L113.5 235.9 L114.1 238.5 L114.8 241.1 L115.5 243.7 L116.1 246.3 L116.8 249.0 L117.4 251.6 L118.1 254.2 L118.8 256.8 L119.5 259.4 L120.1 262.0 L120.8 264.6 L121.5 267.2 L122.2 269.8 L122.9 272.4 L123.6 275.0 L124.3 277.6 L125.0 280.2 L125.7 282.8 L126.4 285.4 L127.1 288.0 L127.8 290.6 L128.5 293.1 L129.2 295.7 L130.0 298.3 L130.7 300.9 L131.4 303.5 L132.2 306.1 L132.9 308.7 L133.7 311.3 L134.4 313.8 L135.2 316.4 L135.9 319.0 L136.7 321.6 L137.5 324.1 L138.3 326.7 L139.1 329.3 L139.9 331.9 L140.7 334.4 L141.5 337.0 L142.3 339.6 L143.1 342.1 L143.9 344.7 L144.7 347.2 L145.6 349.8 L146.4 352.3 L147.3 354.9 L148.1 357.4 L149.0 360.0 L149.9 362.5 L150.8 365.1 L151.6 367.6 L152.5 370.2 L153.4 372.7 L154.4 375.2 L155.3 377.8 L156.2 380.3 L157.1 382.8 L158.1 385.3 L159.0 387.8 L160.0 390.4 L161.0 392.9 L161.9 395.4 L162.9 397.9 L163.9 400.4 L164.9 402.9 L165.9 405.4 L167.0 407.9 L168.0 410.4 L169.0 412.9 L170.1 415.4 L171.2 417.8 L172.2 420.3 L173.3 422.8 L174.4 425.3 L175.5 427.7 L176.6 430.2 L177.7 432.7 L178.9 435.1 L180.0 437.6 L181.2 440.0 L182.3 442.5 L183.5 444.9 L184.7 447.4 L185.9 449.8 L187.1 452.2 L188.3 454.6 L189.6 457.1 L190.8 459.5 L192.1 461.9 L193.4 464.3 L194.7 466.7 L196.0 469.0 L197.3 471.4 L198.6 473.8 L199.9 476.1 L201.3 478.5 L202.7 480.8 L204.0 483.1 L205.4 485.5 L206.9 487.8 L208.3 490.1 L209.7 492.3 L211.2 494.6 L212.6 496.9 L214.1 499.1 L215.6 501.4 L217.1 503.6 L218.7 505.8 L220.2 508.0 L221.8 510.2 L223.4 512.4 L225.0 514.5 L226.6 516.7 L228.2 518.8 L229.9 520.9 L231.5 523.0 L233.2 525.1 L234.9 527.1 L236.6 529.2 L238.3 531.2 L240.1 533.2 L241.9 535.2 L243.7 537.2 L245.5 539.1 L247.3 541.1 L249.1 543.0 L251.0 544.9 L252.9 546.8 L254.8 548.6 L256.7 550.5 L258.7 552.3 L260.6 554.1 L262.6 555.9 L264.6 557.6 L266.6 559.3 L268.7 561.1 L270.7 562.8 L272.8 564.4 L274.9 566.1 L277.0 567.7 L279.1 569.3 L281.3 570.9 L283.4 572.5 L285.6 574.0 L287.8 575.5 L290.0 577.0 L292.2 578.5 L294.5 580.0 L296.7 581.4 L299.0 582.9 L301.3 584.3 L303.6 585.7 L305.9 587.0 L308.2 588.4 L310.5 589.7 L312.9 591.0 L315.2 592.3 L317.6 593.5 L320.0 594.8 L322.4 596.0 L324.8 597.2 L327.2 598.4 L329.6 599.6 L332.1 600.7 L334.5 601.8 L337.0 602.9 L339.5 604.0 L341.9 605.1 L344.4 606.2 L346.9 607.2 L349.4 608.2 L351.9 609.2 L354.4 610.2 L356.9 611.1 L359.5 612.1 L362.0 613.0 L364.5 613.9 L367.1 614.8 L369.6 615.6 L372.2 616.5 L374.8 617.3 L377.3 618.1 L379.9 618.9 L382.5 619.6 L385.1 620.4 L387.7 621.1 L390.2 621.9 L392.8 622.6 L395.4 623.3 L398.1 623.9 L400.7 624.6 L403.3 625.2 L405.9 625.9 L408.5 626.5 L411.1 627.1 L413.8 627.7 L416.4 628.2 L419.0 628.8 L421.7 629.3 L424.3 629.9 L427.0 630.4 L429.6 630.9 L432.3 631.4 L434.9 631.9 L437.6 632.3 L440.2 632.8 L442.9 633.2 L445.6 633.7 L448.2 634.1 L450.9 634.5 L453.6 634.9 L456.2 635.3 L458.9 635.7 L461.6 636.1 L464.3 636.5 L466.9 636.8 L469.6 637.2 L472.3 637.5 L475.0 637.8 L477.7 638.2 L480.4 638.5 L483.0 638.8 L485.7 639.1 L488.4 639.4 L491.1 639.7 L493.8 640.0 L496.5 640.3 L499.2 640.6 L501.9 640.8 L504.6 641.1 L507.2 641.4 L509.9 641.6 L512.6 641.9 L515.3 642.1 L518.0 642.4 L520.7 642.6 L523.4 642.9 L526.1 643.1 L528.7 643.3 L531.4 643.6 L534.1 643.8 L536.8 644.0 L539.5 644.2 L542.2 644.4 L544.9 644.7 L547.5 644.9 L550.2 645.1 L552.9 645.3 L555.6 645.5 L558.3 645.7 L561.0 645.9 L563.6 646.1 L566.3 646.3 L569.0 646.4 L571.7 646.6 L574.4 646.8 L577.0 647.0 L579.7 647.2 L582.4 647.3 L585.1 647.5 L587.8 647.7 L590.4 647.8 L593.1 648.0 L595.8 648.2 L598.5 648.3 L601.2 648.5 L603.8 648.6 L606.5 648.8 L609.2 648.9 L611.9 649.0 L614.6 649.2 L617.2 649.3 L619.9 649.4 L622.6 649.6 L625.3 649.7 L628.0 649.8 L630.7 650.0 L633.3 650.1 L636.0 650.2 L638.7 650.3 L641.4 650.4 L644.1 650.5 L646.8 650.7 L649.4 650.8 L652.1 650.9 L654.8 651.0 L657.5 651.1 L660.2 651.2 L662.9 651.3 L665.6 651.4 L668.3 651.5 L670.9 651.5 L673.6 651.6 L676.3 651.7 L679.0 651.8 L681.7 651.9 L684.4 652.0 L687.1 652.1 L689.8 652.1 L692.5 652.2 L695.2 652.3 L697.8 652.4 L700.5 652.4 L703.2 652.5 L705.9 652.6 L708.6 652.6 L711.3 652.7 L714.0 652.8 L716.7 652.8 L719.4 652.9 L722.1 652.9 L724.8 653.0 L727.5 653.0 L730.2 653.1 L732.9 653.1 L735.5 653.2 L738.2 653.2 L740.9 653.3 L743.6 653.3 L746.3 653.4 L749.0 653.4 L751.7 653.5 L754.4 653.5 L757.1 653.6 L759.8 653.6 L762.5 653.6 L765.2 653.7 L767.9 653.7 L770.6 653.8 L773.3 653.8 L776.0 653.8 L778.7 653.9 L781.4 653.9 L784.1 653.9 L786.8 654.0 L789.5 654.0 L792.2 654.0 L794.8 654.0 L797.5 654.1 L800.2 654.1 L802.9 654.1 L805.6 654.1 L808.3 654.2 L811.0 654.2 L813.7 654.2 L816.4 654.2 L819.1 654.3 L821.8 654.3 L824.5 654.3 L827.2 654.3 L829.9 654.4 L832.6 654.4 L835.3 654.4 L838.0 654.4 L840.7 654.4 L843.3 654.5 L846.0 654.5 L848.7 654.5 L851.4 654.5 L854.1 654.6 L856.8 654.6 L859.5 654.6 L862.2 654.6 L864.9 654.6 L867.6 654.7 L870.3 654.7 L873.0 654.7 L875.6 654.7 L878.3 654.7 L881.0 654.8 L883.7 654.8 L886.4 654.8 L889.1 654.8 L891.8 654.8 L894.5 654.9 L897.1 654.9 L899.8 654.9 L902.5 654.9 L905.2 655.0 L907.9 655.0 L910.6 655.0 L913.3 655.0 L915.9 655.1" fill="none" stroke="#000000" stroke-width="2.2" stroke-linejoin="round"/>
<rect x="760.5" y="13.5" width="135.5" height="168" fill="#fff" stroke="#000" stroke-width="1"/>
<line x1="763" y1="27.6" x2="813" y2="27.6" stroke="#000000" stroke-width="2.2"/>
<text x="817.5" y="34.6" font-family="Liberation Serif, serif" font-size="21" font-weight="bold" font-style="italic">θ = 0°</text>
<line x1="763" y1="56" x2="813" y2="56" stroke="#FF0000" stroke-width="2.4" stroke-dasharray="10.5 11.7"/>
<text x="817.5" y="63.0" font-family="Liberation Serif, serif" font-size="21" font-weight="bold" font-style="italic">θ = 60°</text>
<line x1="763" y1="84" x2="813" y2="84" stroke="#00FF00" stroke-width="2.4" stroke-dasharray="2.5 11"/>
<text x="817.5" y="91.0" font-family="Liberation Serif, serif" font-size="21" font-weight="bold" font-style="italic">θ = 90°</text>
<line x1="763" y1="111.7" x2="813" y2="111.7" stroke="#0000FF" stroke-width="2.6" stroke-dasharray="13 6 2 7"/>
<text x="817.5" y="118.7" font-family="Liberation Serif, serif" font-size="21" font-weight="bold" font-style="italic">θ = 120°</text>
<line x1="763" y1="139" x2="813" y2="139" stroke="#FF00FF" stroke-width="2.2" stroke-dasharray="5.5 5"/>
<text x="817.5" y="146.0" font-family="Liberation Serif, serif" font-size="21" font-weight="bold" font-style="italic">θ = 150°</text>
<line x1="763" y1="166.4" x2="813" y2="166.4" stroke="#FF8000" stroke-width="1.7" stroke-dasharray="1.3 2.7"/>
<text x="817.5" y="173.4" font-family="Liberation Serif, serif" font-size="21" font-weight="bold" font-style="italic">θ = 165°</text>
<text transform="translate(398.30 783.30) scale(1 1)" font-family="Liberation Serif, serif" font-size="36">(a)</text>
<text transform="translate(459.50 783.30) scale(0.93 1)" font-family="Liberation Serif, serif" font-size="36" font-style="italic">Gr</text>
<rect x="511" y="767.8" width="22.2" height="2.4" fill="#000"/>
<rect x="511" y="775.2" width="22.2" height="2.4" fill="#000"/>
<text transform="translate(545.50 783.30) scale(1.05 1)" font-family="Liberation Serif, serif" font-size="37">10</text>
<rect x="104" y="829" width="822" height="3" fill="#000"/>
<rect x="104" y="831" width="2" height="661" fill="#000"/>
<rect x="924" y="829" width="2" height="663" fill="#000"/>
<rect x="104" y="1490" width="822" height="2" fill="#000"/>
<rect x="106" y="1439" width="6" height="2" fill="#000"/>
<rect x="106" y="1388" width="14" height="3" fill="#000"/>
<rect x="106" y="1338" width="6" height="2" fill="#000"/>
<rect x="106" y="1286" width="14" height="3" fill="#000"/>
<rect x="106" y="1236" width="6" height="2" fill="#000"/>
<rect x="106" y="1185" width="14" height="3" fill="#000"/>
<rect x="106" y="1135" width="6" height="2" fill="#000"/>
<rect x="106" y="1084" width="14" height="3" fill="#000"/>
<rect x="106" y="1033" width="6" height="2" fill="#000"/>
<rect x="106" y="982" width="14" height="3" fill="#000"/>
<rect x="106" y="932" width="6" height="2" fill="#000"/>
<rect x="106" y="880" width="14" height="3" fill="#000"/>
<rect x="268" y="1478" width="2" height="12" fill="#000"/>
<rect x="432" y="1478" width="2" height="12" fill="#000"/>
<rect x="595" y="1478" width="2" height="12" fill="#000"/>
<rect x="759" y="1478" width="2" height="12" fill="#000"/>
<text transform="translate(91.40 1498.60) scale(1 1.0)" font-family="Liberation Sans, sans-serif" font-size="28.5" text-anchor="end">0.00</text>
<text transform="translate(91.40 1397.10) scale(1 1.0)" font-family="Liberation Sans, sans-serif" font-size="28.5" text-anchor="end">0.02</text>
<text transform="translate(91.40 1295.60) scale(1 1.0)" font-family="Liberation Sans, sans-serif" font-size="28.5" text-anchor="end">0.04</text>
<text transform="translate(91.40 1194.10) scale(1 1.0)" font-family="Liberation Sans, sans-serif" font-size="28.5" text-anchor="end">0.06</text>
<text transform="translate(91.40 1092.60) scale(1 1.0)" font-family="Liberation Sans, sans-serif" font-size="28.5" text-anchor="end">0.08</text>
<text transform="translate(91.40 991.10) scale(1 1.0)" font-family="Liberation Sans, sans-serif" font-size="28.5" text-anchor="end">0.10</text>
<text transform="translate(91.40 889.60) scale(1 1.0)" font-family="Liberation Sans, sans-serif" font-size="28.5" text-anchor="end">0.12</text>
<text transform="translate(105.30 1527.60) scale(1 1.05)" font-family="Liberation Sans, sans-serif" font-size="27.5" text-anchor="middle">0.0</text>
<text transform="translate(269.10 1527.60) scale(1 1.05)" font-family="Liberation Sans, sans-serif" font-size="27.5" text-anchor="middle">0.3</text>
<text transform="translate(432.90 1527.60) scale(1 1.05)" font-family="Liberation Sans, sans-serif" font-size="27.5" text-anchor="middle">0.6</text>
<text transform="translate(596.70 1527.60) scale(1 1.05)" font-family="Liberation Sans, sans-serif" font-size="27.5" text-anchor="middle">0.9</text>
<text transform="translate(760.50 1527.60) scale(1 1.05)" font-family="Liberation Sans, sans-serif" font-size="27.5" text-anchor="middle">1.2</text>
<text transform="translate(924.30 1527.60) scale(1 1.05)" font-family="Liberation Sans, sans-serif" font-size="27.5" text-anchor="middle">1.5</text>
<text x="487" y="1561.6" font-family="Liberation Serif, serif" font-size="33" font-weight="bold" font-style="italic">R</text>
<text x="514" y="1549" font-family="Liberation Serif, serif" font-size="21" font-weight="bold" font-style="italic">*</text>
<g transform="translate(29,1156.6) rotate(-90)"><text x="0" y="0" font-family="Liberation Serif, serif" font-size="34" font-weight="bold" font-style="italic">T</text><text x="23.4" y="-16.1" font-family="Liberation Serif, serif" font-size="17.5" font-weight="bold" font-style="italic">*</text></g>
<path d="M105.2 854.4 L105.8 857.3 L106.3 860.2 L106.9 863.2 L107.5 866.1 L108.1 869.1 L108.7 872.0 L109.3 875.0 L109.9 877.9 L110.5 880.8 L111.1 883.8 L111.7 886.7 L112.3 889.6 L112.9 892.6 L113.5 895.5 L114.1 898.5 L114.8 901.4 L115.4 904.3 L116.0 907.3 L116.6 910.2 L117.3 913.1 L117.9 916.1 L118.5 919.0 L119.2 921.9 L119.8 924.9 L120.5 927.8 L121.1 930.7 L121.8 933.7 L122.4 936.6 L123.1 939.5 L123.7 942.5 L124.4 945.4 L125.0 948.3 L125.7 951.2 L126.4 954.2 L127.0 957.1 L127.7 960.0 L128.4 963.0 L129.0 965.9 L129.7 968.8 L130.4 971.7 L131.1 974.7 L131.7 977.6 L132.4 980.5 L133.1 983.4 L133.8 986.4 L134.5 989.3 L135.1 992.2 L135.8 995.1 L136.5 998.1 L137.2 1001.0 L137.9 1003.9 L138.6 1006.8 L139.3 1009.7 L140.0 1012.6 L140.7 1015.6 L141.5 1018.5 L142.2 1021.4 L142.9 1024.3 L143.6 1027.2 L144.3 1030.1 L145.1 1033.0 L145.8 1036.0 L146.5 1038.9 L147.3 1041.8 L148.0 1044.7 L148.8 1047.6 L149.5 1050.5 L150.3 1053.4 L151.1 1056.3 L151.8 1059.2 L152.6 1062.1 L153.4 1065.0 L154.2 1067.9 L154.9 1070.8 L155.7 1073.7 L156.5 1076.6 L157.3 1079.5 L158.2 1082.4 L159.0 1085.3 L159.8 1088.1 L160.6 1091.0 L161.5 1093.9 L162.3 1096.8 L163.1 1099.7 L164.0 1102.6 L164.9 1105.4 L165.7 1108.3 L166.6 1111.2 L167.5 1114.1 L168.4 1116.9 L169.3 1119.8 L170.2 1122.7 L171.1 1125.5 L172.0 1128.4 L172.9 1131.2 L173.9 1134.1 L174.8 1136.9 L175.8 1139.8 L176.7 1142.6 L177.7 1145.5 L178.7 1148.3 L179.6 1151.2 L180.6 1154.0 L181.6 1156.8 L182.7 1159.6 L183.7 1162.5 L184.7 1165.3 L185.7 1168.1 L186.8 1170.9 L187.9 1173.7 L188.9 1176.5 L190.0 1179.3 L191.1 1182.1 L192.2 1184.9 L193.3 1187.7 L194.5 1190.5 L195.6 1193.3 L196.7 1196.1 L197.9 1198.8 L199.1 1201.6 L200.2 1204.4 L201.4 1207.1 L202.6 1209.9 L203.9 1212.6 L205.1 1215.4 L206.3 1218.1 L207.6 1220.8 L208.9 1223.5 L210.1 1226.3 L211.4 1229.0 L212.7 1231.7 L214.0 1234.4 L215.4 1237.1 L216.7 1239.8 L218.1 1242.5 L219.5 1245.1 L220.9 1247.8 L222.3 1250.5 L223.7 1253.1 L225.1 1255.8 L226.6 1258.4 L228.0 1261.0 L229.5 1263.6 L231.0 1266.2 L232.5 1268.8 L234.1 1271.4 L235.6 1274.0 L237.2 1276.6 L238.8 1279.1 L240.4 1281.6 L242.0 1284.2 L243.6 1286.7 L245.3 1289.2 L247.0 1291.7 L248.7 1294.1 L250.4 1296.6 L252.1 1299.1 L253.9 1301.5 L255.6 1303.9 L257.4 1306.3 L259.2 1308.7 L261.1 1311.1 L262.9 1313.4 L264.8 1315.8 L266.6 1318.1 L268.5 1320.4 L270.5 1322.7 L272.4 1325.0 L274.4 1327.3 L276.3 1329.5 L278.3 1331.8 L280.3 1334.0 L282.4 1336.2 L284.4 1338.3 L286.5 1340.5 L288.6 1342.7 L290.7 1344.8 L292.8 1346.9 L294.9 1349.0 L297.1 1351.0 L299.3 1353.1 L301.5 1355.1 L303.7 1357.1 L305.9 1359.1 L308.2 1361.1 L310.4 1363.0 L312.7 1365.0 L315.0 1366.9 L317.3 1368.8 L319.7 1370.6 L322.0 1372.5 L324.4 1374.3 L326.8 1376.2 L329.1 1378.0 L331.6 1379.7 L334.0 1381.5 L336.4 1383.2 L338.9 1385.0 L341.3 1386.7 L343.8 1388.4 L346.3 1390.0 L348.8 1391.7 L351.3 1393.3 L353.9 1394.9 L356.4 1396.5 L359.0 1398.1 L361.5 1399.7 L364.1 1401.2 L366.7 1402.7 L369.3 1404.2 L371.9 1405.7 L374.6 1407.2 L377.2 1408.6 L379.8 1410.0 L382.5 1411.5 L385.2 1412.8 L387.8 1414.2 L390.5 1415.6 L393.2 1416.9 L395.9 1418.2 L398.6 1419.5 L401.4 1420.8 L404.1 1422.1 L406.8 1423.3 L409.6 1424.6 L412.4 1425.8 L415.1 1427.0 L417.9 1428.2 L420.7 1429.3 L423.5 1430.5 L426.2 1431.6 L429.0 1432.7 L431.8 1433.8 L434.7 1434.9 L437.5 1435.9 L440.3 1437.0 L443.1 1438.0 L446.0 1439.0 L448.8 1440.0 L451.6 1440.9 L454.5 1441.9 L457.3 1442.8 L460.2 1443.7 L463.1 1444.6 L465.9 1445.5 L468.8 1446.4 L471.7 1447.2 L474.5 1448.1 L477.4 1448.9 L480.3 1449.7 L483.2 1450.5 L486.1 1451.3 L489.0 1452.0 L491.9 1452.8 L494.8 1453.5 L497.7 1454.3 L500.6 1455.0 L503.6 1455.7 L506.5 1456.3 L509.4 1457.0 L512.3 1457.7 L515.3 1458.3 L518.2 1458.9 L521.1 1459.6 L524.1 1460.2 L527.0 1460.8 L529.9 1461.4 L532.9 1461.9 L535.8 1462.5 L538.8 1463.0 L541.7 1463.6 L544.7 1464.1 L547.7 1464.6 L550.6 1465.2 L553.6 1465.7 L556.5 1466.2 L559.5 1466.6 L562.5 1467.1 L565.4 1467.6 L568.4 1468.0 L571.4 1468.5 L574.4 1468.9 L577.3 1469.4 L580.3 1469.8 L583.3 1470.2 L586.3 1470.6 L589.3 1471.0 L592.2 1471.4 L595.2 1471.8 L598.2 1472.2 L601.2 1472.6 L604.2 1472.9 L607.1 1473.3 L610.1 1473.6 L613.1 1474.0 L616.1 1474.3 L619.1 1474.7 L622.1 1475.0 L625.1 1475.3 L628.0 1475.7 L631.0 1476.0 L634.0 1476.3 L637.0 1476.6 L640.0 1476.9 L643.0 1477.2 L646.0 1477.5 L649.0 1477.8 L651.9 1478.1 L654.9 1478.3 L657.9 1478.6 L660.9 1478.9 L663.9 1479.1 L666.9 1479.4 L669.9 1479.6 L672.9 1479.9 L675.9 1480.1 L678.9 1480.4 L681.9 1480.6 L684.9 1480.8 L687.9 1481.0 L690.9 1481.2 L693.9 1481.5 L696.8 1481.7 L699.8 1481.9 L702.8 1482.1 L705.8 1482.3 L708.8 1482.5 L711.8 1482.7 L714.8 1482.8 L717.8 1483.0 L720.8 1483.2 L723.8 1483.4 L726.8 1483.5 L729.8 1483.7 L732.8 1483.9 L735.8 1484.0 L738.8 1484.2 L741.8 1484.3 L744.8 1484.5 L747.8 1484.6 L750.8 1484.8 L753.8 1484.9 L756.8 1485.0 L759.8 1485.2 L762.8 1485.3 L765.8 1485.4 L768.8 1485.5 L771.8 1485.7 L774.8 1485.8 L777.8 1485.9 L780.8 1486.0 L783.8 1486.1 L786.8 1486.2 L789.8 1486.3 L792.9 1486.4 L795.9 1486.5 L798.9 1486.6 L801.9 1486.7 L804.9 1486.8 L807.9 1486.9 L810.9 1487.0 L813.9 1487.1 L816.9 1487.1 L819.9 1487.2 L822.9 1487.3 L825.9 1487.4 L828.9 1487.5 L831.9 1487.5 L834.9 1487.6 L837.9 1487.7 L840.9 1487.7 L843.9 1487.8 L846.9 1487.9 L849.9 1487.9 L852.9 1488.0 L855.9 1488.1 L858.9 1488.1 L861.9 1488.2 L864.9 1488.2 L867.9 1488.3 L870.9 1488.4 L873.9 1488.4 L876.9 1488.5 L879.9 1488.5 L883.0 1488.6 L886.0 1488.6 L889.0 1488.7 L892.0 1488.7 L895.0 1488.8 L898.0 1488.8 L901.0 1488.9 L904.0 1488.9 L907.0 1489.0 L910.0 1489.0 L913.0 1489.1 L916.0 1489.1 L919.0 1489.2 L922.0 1489.2 L925.0 1489.3" fill="none" stroke="#FF8000" stroke-width="1.9" stroke-dasharray="1.5 3.0" stroke-linejoin="round"/>
<path d="M105.5 945.1 L105.9 948.1 L106.2 951.1 L106.5 954.1 L106.9 957.1 L107.2 960.2 L107.6 963.2 L107.9 966.2 L108.2 969.2 L108.6 972.2 L108.9 975.2 L109.3 978.2 L109.7 981.2 L110.0 984.2 L110.4 987.2 L110.7 990.3 L111.1 993.3 L111.5 996.3 L111.9 999.3 L112.2 1002.3 L112.6 1005.3 L113.0 1008.3 L113.4 1011.4 L113.8 1014.4 L114.2 1017.4 L114.6 1020.4 L115.0 1023.4 L115.4 1026.4 L115.8 1029.5 L116.2 1032.5 L116.6 1035.5 L117.0 1038.5 L117.4 1041.5 L117.9 1044.5 L118.3 1047.5 L118.7 1050.6 L119.2 1053.6 L119.6 1056.6 L120.0 1059.6 L120.5 1062.6 L120.9 1065.6 L121.4 1068.6 L121.9 1071.7 L122.3 1074.7 L122.8 1077.7 L123.3 1080.7 L123.7 1083.7 L124.2 1086.7 L124.7 1089.7 L125.2 1092.7 L125.7 1095.7 L126.2 1098.7 L126.7 1101.7 L127.2 1104.7 L127.7 1107.7 L128.3 1110.7 L128.8 1113.7 L129.3 1116.7 L129.8 1119.7 L130.4 1122.7 L130.9 1125.7 L131.5 1128.7 L132.0 1131.7 L132.6 1134.7 L133.2 1137.7 L133.7 1140.7 L134.3 1143.7 L134.9 1146.7 L135.5 1149.6 L136.1 1152.6 L136.7 1155.6 L137.3 1158.6 L137.9 1161.6 L138.5 1164.5 L139.1 1167.5 L139.7 1170.5 L140.4 1173.4 L141.0 1176.4 L141.7 1179.4 L142.3 1182.3 L143.0 1185.3 L143.6 1188.3 L144.3 1191.2 L145.0 1194.2 L145.6 1197.1 L146.3 1200.1 L147.0 1203.0 L147.7 1206.0 L148.4 1208.9 L149.1 1211.8 L149.9 1214.8 L150.6 1217.7 L151.3 1220.7 L152.0 1223.6 L152.8 1226.5 L153.5 1229.5 L154.3 1232.4 L155.0 1235.4 L155.8 1238.3 L156.5 1241.2 L157.3 1244.1 L158.1 1247.1 L158.9 1250.0 L159.7 1252.9 L160.4 1255.9 L161.2 1258.8 L162.0 1261.7 L162.8 1264.7 L163.7 1267.6 L164.5 1270.5 L165.3 1273.4 L166.1 1276.4 L166.9 1279.3 L167.8 1282.2 L168.6 1285.1 L169.5 1288.1 L170.3 1291.0 L171.1 1293.9 L172.0 1296.9 L172.9 1299.8 L173.7 1302.7 L174.6 1305.7 L175.5 1308.6 L176.4 1311.5 L177.2 1314.4 L178.1 1317.4 L179.0 1320.3 L180.0 1323.2 L180.9 1326.1 L181.8 1329.1 L182.8 1332.0 L183.7 1334.9 L184.7 1337.8 L185.7 1340.7 L186.7 1343.5 L187.7 1346.4 L188.8 1349.3 L189.8 1352.2 L190.9 1355.0 L192.0 1357.9 L193.1 1360.7 L194.3 1363.5 L195.5 1366.3 L196.7 1369.1 L197.9 1371.9 L199.1 1374.7 L200.4 1377.4 L201.7 1380.2 L203.0 1382.9 L204.4 1385.6 L205.8 1388.3 L207.2 1391.0 L208.7 1393.7 L210.2 1396.3 L211.7 1398.9 L213.2 1401.5 L214.8 1404.1 L216.5 1406.7 L218.1 1409.2 L219.8 1411.8 L221.6 1414.3 L223.4 1416.8 L225.2 1419.2 L227.0 1421.6 L228.9 1424.0 L230.8 1426.4 L232.8 1428.7 L234.8 1431.0 L236.8 1433.3 L238.9 1435.5 L241.0 1437.7 L243.2 1439.8 L245.3 1442.0 L247.5 1444.0 L249.8 1446.0 L252.1 1448.0 L254.4 1449.9 L256.7 1451.8 L259.1 1453.7 L261.5 1455.4 L263.9 1457.2 L266.4 1458.8 L268.9 1460.5 L271.5 1462.0 L274.0 1463.5 L276.6 1465.0 L279.3 1466.4 L281.9 1467.7 L284.6 1468.9 L287.4 1470.1 L290.1 1471.3 L292.9 1472.3 L295.7 1473.4 L298.5 1474.3 L301.4 1475.3 L304.2 1476.1 L307.1 1477.0 L310.0 1477.7 L313.0 1478.5 L315.9 1479.2 L318.9 1479.8 L321.9 1480.5 L324.9 1481.0 L327.9 1481.6 L330.9 1482.1 L333.9 1482.6 L336.9 1483.1 L340.0 1483.5 L343.0 1483.9 L346.1 1484.3 L349.1 1484.7 L352.2 1485.0 L355.2 1485.3 L358.3 1485.7 L361.4 1486.0 L364.4 1486.3 L367.5 1486.5 L370.5 1486.8 L373.6 1487.1 L376.6 1487.3 L379.7 1487.6 L382.7 1487.8 L385.8 1488.0 L388.8 1488.2 L391.9 1488.4 L394.9 1488.6 L398.0 1488.8 L401.0 1488.9 L404.1 1489.1 L407.1 1489.2 L410.2 1489.4 L413.2 1489.5 L416.3 1489.6 L419.3 1489.7 L422.3 1489.8 L425.4 1489.9 L428.4 1490.0 L431.5 1490.1 L434.5 1490.2 L437.5 1490.2 L440.6 1490.3 L443.6 1490.3 L446.7 1490.4 L449.7 1490.4 L452.7 1490.5 L455.8 1490.5 L458.8 1490.5 L461.9 1490.5 L464.9 1490.6 L467.9 1490.6 L471.0 1490.6 L474.0 1490.6 L477.0 1490.6 L480.1 1490.6 L483.1 1490.6 L486.2 1490.6 L489.2 1490.6 L492.2 1490.6 L495.3 1490.5 L498.3 1490.5 L501.3 1490.5 L504.4 1490.5 L507.4 1490.5 L510.4 1490.4 L513.5 1490.4 L516.5 1490.4 L519.5 1490.4 L522.6 1490.3 L525.6 1490.3 L528.7 1490.3 L531.7 1490.3 L534.7 1490.3 L537.8 1490.2 L540.8 1490.2 L543.8 1490.2 L546.9 1490.2 L549.9 1490.2 L553.0 1490.1 L556.0 1490.1 L559.0 1490.1 L562.1 1490.1 L565.1 1490.1 L568.1 1490.1 L571.2 1490.1 L574.2 1490.1 L577.3 1490.1 L580.3 1490.1 L583.3 1490.0 L586.4 1490.0 L589.4 1490.0 L592.5 1490.0 L595.5 1490.0 L598.5 1490.0 L601.6 1490.0 L604.6 1490.0 L607.7 1490.0 L610.7 1490.0 L613.7 1490.0 L616.8 1490.0 L619.8 1490.0 L622.9 1490.0 L625.9 1490.1 L629.0 1490.1 L632.0 1490.1 L635.0 1490.1 L638.1 1490.1 L641.1 1490.1 L644.2 1490.1 L647.2 1490.1 L650.2 1490.1 L653.3 1490.1 L656.3 1490.1 L659.4 1490.1 L662.4 1490.1 L665.5 1490.2 L668.5 1490.2 L671.5 1490.2 L674.6 1490.2 L677.6 1490.2 L680.7 1490.2 L683.7 1490.2 L686.8 1490.2 L689.8 1490.3 L692.8 1490.3 L695.9 1490.3 L698.9 1490.3 L702.0 1490.3 L705.0 1490.3 L708.1 1490.3 L711.1 1490.3 L714.1 1490.4 L717.2 1490.4 L720.2 1490.4 L723.3 1490.4 L726.3 1490.4 L729.4 1490.4 L732.4 1490.4 L735.4 1490.4 L738.5 1490.5 L741.5 1490.5 L744.6 1490.5 L747.6 1490.5 L750.7 1490.5 L753.7 1490.5 L756.7 1490.5 L759.8 1490.5 L762.8 1490.6 L765.9 1490.6 L768.9 1490.6 L772.0 1490.6 L775.0 1490.6 L778.0 1490.6 L781.1 1490.6 L784.1 1490.6 L787.2 1490.6 L790.2 1490.6 L793.3 1490.6 L796.3 1490.6 L799.3 1490.6 L802.4 1490.6 L805.4 1490.6 L808.5 1490.6 L811.5 1490.6 L814.5 1490.6 L817.6 1490.6 L820.6 1490.6 L823.7 1490.6 L826.7 1490.6 L829.8 1490.6 L832.8 1490.6 L835.8 1490.6 L838.9 1490.6 L841.9 1490.6 L845.0 1490.6 L848.0 1490.6 L851.0 1490.6 L854.1 1490.6 L857.1 1490.6 L860.2 1490.6 L863.2 1490.6 L866.2 1490.6 L869.3 1490.6 L872.3 1490.6 L875.4 1490.5 L878.4 1490.5 L881.4 1490.5 L884.5 1490.5 L887.5 1490.5 L890.5 1490.5 L893.6 1490.4 L896.6 1490.4 L899.7 1490.4 L902.7 1490.4 L905.7 1490.3 L908.8 1490.3 L911.8 1490.3 L914.8 1490.2 L917.9 1490.2 L920.9 1490.2 L923.9 1490.1" fill="none" stroke="#FF00FF" stroke-width="3.6" stroke-dasharray="8 6" stroke-linejoin="round"/>
<path d="M105.6 1060.1 L105.9 1062.9 L106.3 1065.8 L106.6 1068.7 L106.9 1071.5 L107.3 1074.4 L107.6 1077.2 L107.9 1080.1 L108.3 1082.9 L108.6 1085.8 L108.9 1088.7 L109.3 1091.5 L109.6 1094.4 L110.0 1097.3 L110.3 1100.1 L110.6 1103.0 L111.0 1105.9 L111.3 1108.7 L111.6 1111.6 L112.0 1114.5 L112.3 1117.3 L112.7 1120.2 L113.0 1123.1 L113.4 1125.9 L113.7 1128.8 L114.0 1131.7 L114.4 1134.5 L114.7 1137.4 L115.1 1140.3 L115.4 1143.1 L115.8 1146.0 L116.1 1148.9 L116.5 1151.8 L116.8 1154.6 L117.2 1157.5 L117.6 1160.4 L117.9 1163.2 L118.3 1166.1 L118.6 1169.0 L119.0 1171.8 L119.4 1174.7 L119.7 1177.6 L120.1 1180.5 L120.5 1183.3 L120.8 1186.2 L121.2 1189.1 L121.6 1191.9 L122.0 1194.8 L122.3 1197.7 L122.7 1200.5 L123.1 1203.4 L123.5 1206.3 L123.9 1209.1 L124.3 1212.0 L124.7 1214.9 L125.1 1217.7 L125.5 1220.6 L125.9 1223.5 L126.3 1226.3 L126.7 1229.2 L127.1 1232.1 L127.5 1234.9 L127.9 1237.8 L128.3 1240.6 L128.7 1243.5 L129.1 1246.4 L129.5 1249.2 L130.0 1252.1 L130.4 1254.9 L130.8 1257.8 L131.3 1260.6 L131.7 1263.5 L132.1 1266.4 L132.6 1269.2 L133.0 1272.1 L133.5 1274.9 L133.9 1277.8 L134.4 1280.6 L134.8 1283.4 L135.3 1286.3 L135.7 1289.1 L136.2 1292.0 L136.7 1294.8 L137.2 1297.7 L137.6 1300.5 L138.1 1303.3 L138.6 1306.2 L139.1 1309.0 L139.6 1311.8 L140.1 1314.7 L140.6 1317.5 L141.2 1320.3 L141.7 1323.2 L142.2 1326.0 L142.8 1328.8 L143.3 1331.6 L143.9 1334.5 L144.5 1337.3 L145.1 1340.1 L145.6 1342.9 L146.3 1345.7 L146.9 1348.5 L147.5 1351.4 L148.1 1354.2 L148.8 1357.0 L149.4 1359.8 L150.1 1362.6 L150.8 1365.4 L151.5 1368.2 L152.2 1371.0 L153.0 1373.8 L153.7 1376.6 L154.5 1379.4 L155.2 1382.2 L156.0 1384.9 L156.8 1387.7 L157.7 1390.5 L158.5 1393.3 L159.4 1396.1 L160.2 1398.8 L161.1 1401.6 L162.0 1404.4 L163.0 1407.2 L163.9 1409.9 L164.9 1412.7 L165.9 1415.5 L166.9 1418.2 L167.9 1421.0 L169.0 1423.7 L170.1 1426.4 L171.2 1429.2 L172.4 1431.8 L173.7 1434.5 L174.9 1437.1 L176.3 1439.8 L177.7 1442.3 L179.2 1444.9 L180.7 1447.3 L182.4 1449.8 L184.1 1452.2 L185.9 1454.5 L187.7 1456.8 L189.6 1459.0 L191.6 1461.1 L193.7 1463.1 L195.8 1465.0 L197.9 1466.9 L200.2 1468.6 L202.4 1470.2 L204.8 1471.7 L207.1 1473.1 L209.6 1474.4 L212.1 1475.5 L214.6 1476.6 L217.1 1477.6 L219.7 1478.4 L222.4 1479.2 L225.0 1480.0 L227.7 1480.6 L230.5 1481.2 L233.2 1481.7 L236.0 1482.1 L238.8 1482.5 L241.6 1482.9 L244.5 1483.2 L247.3 1483.4 L250.2 1483.7 L253.1 1483.9 L256.0 1484.0 L258.9 1484.2 L261.8 1484.3 L264.7 1484.5 L267.6 1484.6 L270.6 1484.7 L273.5 1484.8 L276.4 1485.0 L279.3 1485.1 L282.2 1485.2 L285.1 1485.3 L288.0 1485.4 L290.9 1485.5 L293.8 1485.6 L296.7 1485.7 L299.6 1485.9 L302.5 1486.0 L305.5 1486.1 L308.4 1486.2 L311.3 1486.3 L314.2 1486.4 L317.1 1486.5 L320.0 1486.6 L322.9 1486.6 L325.8 1486.7 L328.7 1486.8 L331.6 1486.9 L334.5 1487.0 L337.4 1487.1 L340.3 1487.2 L343.2 1487.2 L346.1 1487.3 L349.0 1487.4 L351.9 1487.5 L354.8 1487.6 L357.7 1487.6 L360.6 1487.7 L363.5 1487.8 L366.4 1487.8 L369.3 1487.9 L372.2 1488.0 L375.1 1488.0 L378.0 1488.1 L380.9 1488.2 L383.8 1488.2 L386.7 1488.3 L389.6 1488.3 L392.5 1488.4 L395.4 1488.5 L398.3 1488.5 L401.2 1488.6 L404.1 1488.6 L407.0 1488.7 L409.8 1488.7 L412.7 1488.8 L415.6 1488.8 L418.5 1488.9 L421.4 1488.9 L424.3 1488.9 L427.2 1489.0 L430.1 1489.0 L433.0 1489.1 L435.9 1489.1 L438.8 1489.1 L441.7 1489.2 L444.6 1489.2 L447.5 1489.2 L450.3 1489.3 L453.2 1489.3 L456.1 1489.3 L459.0 1489.4 L461.9 1489.4 L464.8 1489.4 L467.7 1489.4 L470.6 1489.5 L473.5 1489.5 L476.4 1489.5 L479.2 1489.5 L482.1 1489.6 L485.0 1489.6 L487.9 1489.6 L490.8 1489.6 L493.7 1489.6 L496.6 1489.7 L499.5 1489.7 L502.3 1489.7 L505.2 1489.7 L508.1 1489.7 L511.0 1489.7 L513.9 1489.8 L516.8 1489.8 L519.7 1489.8 L522.6 1489.8 L525.4 1489.8 L528.3 1489.8 L531.2 1489.8 L534.1 1489.8 L537.0 1489.8 L539.9 1489.8 L542.8 1489.8 L545.6 1489.8 L548.5 1489.9 L551.4 1489.9 L554.3 1489.9 L557.2 1489.9 L560.1 1489.9 L563.0 1489.9 L565.8 1489.9 L568.7 1489.9 L571.6 1489.9 L574.5 1489.9 L577.4 1489.9 L580.3 1489.9 L583.2 1489.9 L586.0 1489.9 L588.9 1489.9 L591.8 1489.9 L594.7 1489.9 L597.6 1489.9 L600.5 1489.9 L603.4 1489.9 L606.2 1489.9 L609.1 1489.9 L612.0 1489.9 L614.9 1489.9 L617.8 1489.8 L620.7 1489.8 L623.5 1489.8 L626.4 1489.8 L629.3 1489.8 L632.2 1489.8 L635.1 1489.8 L638.0 1489.8 L640.9 1489.8 L643.7 1489.8 L646.6 1489.8 L649.5 1489.8 L652.4 1489.8 L655.3 1489.8 L658.2 1489.8 L661.0 1489.8 L663.9 1489.8 L666.8 1489.8 L669.7 1489.8 L672.6 1489.8 L675.5 1489.7 L678.4 1489.7 L681.2 1489.7 L684.1 1489.7 L687.0 1489.7 L689.9 1489.7 L692.8 1489.7 L695.7 1489.7 L698.6 1489.7 L701.4 1489.7 L704.3 1489.7 L707.2 1489.7 L710.1 1489.7 L713.0 1489.7 L715.9 1489.7 L718.8 1489.7 L721.6 1489.7 L724.5 1489.7 L727.4 1489.7 L730.3 1489.7 L733.2 1489.7 L736.1 1489.7 L739.0 1489.7 L741.9 1489.7 L744.7 1489.7 L747.6 1489.7 L750.5 1489.7 L753.4 1489.7 L756.3 1489.7 L759.2 1489.7 L762.1 1489.7 L765.0 1489.7 L767.9 1489.7 L770.7 1489.7 L773.6 1489.7 L776.5 1489.7 L779.4 1489.7 L782.3 1489.7 L785.2 1489.7 L788.1 1489.8 L791.0 1489.8 L793.9 1489.8 L796.8 1489.8 L799.6 1489.8 L802.5 1489.8 L805.4 1489.8 L808.3 1489.8 L811.2 1489.8 L814.1 1489.9 L817.0 1489.9 L819.9 1489.9 L822.8 1489.9 L825.7 1489.9 L828.6 1489.9 L831.5 1490.0 L834.4 1490.0 L837.3 1490.0 L840.1 1490.0 L843.0 1490.1 L845.9 1490.1 L848.8 1490.1 L851.7 1490.1 L854.6 1490.2 L857.5 1490.2 L860.4 1490.2 L863.3 1490.2 L866.2 1490.3 L869.1 1490.3 L872.0 1490.3 L874.9 1490.4 L877.8 1490.4 L880.7 1490.5 L883.6 1490.5 L886.5 1490.5 L889.4 1490.6 L892.3 1490.6 L895.2 1490.6 L898.1 1490.6 L901.0 1490.6 L903.9 1490.6 L906.8 1490.6 L909.7 1490.6 L912.6 1490.6 L915.5 1490.6 L918.4 1490.6 L921.3 1490.6 L924.2 1490.6" fill="none" stroke="#0000FF" stroke-width="2.4" stroke-dasharray="13 6 2 7" stroke-linejoin="round"/>
<path d="M105.5 1109.0 L105.9 1111.8 L106.3 1114.6 L106.7 1117.3 L107.1 1120.1 L107.5 1122.9 L107.9 1125.7 L108.3 1128.4 L108.7 1131.2 L109.0 1134.0 L109.4 1136.8 L109.8 1139.5 L110.1 1142.3 L110.5 1145.1 L110.9 1147.9 L111.2 1150.7 L111.6 1153.4 L111.9 1156.2 L112.3 1159.0 L112.6 1161.8 L113.0 1164.6 L113.3 1167.3 L113.7 1170.1 L114.0 1172.9 L114.4 1175.7 L114.7 1178.5 L115.0 1181.3 L115.4 1184.1 L115.7 1186.8 L116.1 1189.6 L116.4 1192.4 L116.7 1195.2 L117.1 1198.0 L117.4 1200.8 L117.7 1203.6 L118.1 1206.3 L118.4 1209.1 L118.7 1211.9 L119.1 1214.7 L119.4 1217.5 L119.7 1220.3 L120.1 1223.1 L120.4 1225.8 L120.7 1228.6 L121.1 1231.4 L121.4 1234.2 L121.8 1237.0 L122.1 1239.8 L122.4 1242.6 L122.8 1245.3 L123.1 1248.1 L123.5 1250.9 L123.8 1253.7 L124.2 1256.5 L124.5 1259.3 L124.9 1262.0 L125.3 1264.8 L125.6 1267.6 L126.0 1270.4 L126.3 1273.2 L126.7 1275.9 L127.1 1278.7 L127.5 1281.5 L127.9 1284.3 L128.2 1287.0 L128.6 1289.8 L129.0 1292.6 L129.4 1295.4 L129.8 1298.1 L130.2 1300.9 L130.6 1303.7 L131.0 1306.5 L131.4 1309.2 L131.9 1312.0 L132.3 1314.8 L132.7 1317.5 L133.2 1320.3 L133.6 1323.1 L134.0 1325.8 L134.5 1328.6 L135.0 1331.3 L135.4 1334.1 L135.9 1336.9 L136.4 1339.6 L136.8 1342.4 L137.3 1345.1 L137.8 1347.9 L138.3 1350.6 L138.8 1353.4 L139.3 1356.1 L139.9 1358.9 L140.4 1361.7 L140.9 1364.4 L141.5 1367.2 L142.0 1369.9 L142.6 1372.7 L143.1 1375.4 L143.7 1378.2 L144.3 1380.9 L144.9 1383.7 L145.5 1386.4 L146.1 1389.1 L146.7 1391.9 L147.4 1394.6 L148.0 1397.4 L148.7 1400.1 L149.4 1402.8 L150.2 1405.5 L150.9 1408.2 L151.7 1410.9 L152.5 1413.6 L153.3 1416.3 L154.2 1419.0 L155.1 1421.6 L156.0 1424.3 L157.0 1426.9 L158.0 1429.5 L159.1 1432.1 L160.2 1434.7 L161.3 1437.3 L162.5 1439.9 L163.7 1442.4 L165.0 1445.0 L166.3 1447.5 L167.6 1450.0 L169.1 1452.4 L170.6 1454.8 L172.1 1457.2 L173.7 1459.5 L175.4 1461.8 L177.1 1464.0 L178.9 1466.1 L180.7 1468.1 L182.7 1470.1 L184.7 1471.9 L186.8 1473.7 L188.9 1475.3 L191.2 1476.8 L193.5 1478.2 L195.9 1479.5 L198.4 1480.6 L200.9 1481.7 L203.5 1482.6 L206.2 1483.4 L208.9 1484.2 L211.6 1484.9 L214.3 1485.5 L217.1 1486.1 L219.9 1486.6 L222.7 1487.1 L225.4 1487.5 L228.2 1487.9 L231.0 1488.2 L233.8 1488.5 L236.6 1488.7 L239.4 1489.0 L242.2 1489.2 L245.0 1489.3 L247.8 1489.5 L250.6 1489.6 L253.4 1489.7 L256.2 1489.8 L259.0 1489.8 L261.8 1489.9 L264.6 1489.9 L267.4 1489.9 L270.2 1489.9 L273.0 1489.9 L275.9 1489.9 L278.7 1489.9 L281.5 1489.9 L284.3 1489.9 L287.1 1489.9 L289.9 1489.9 L292.7 1489.9 L295.5 1489.9 L298.3 1489.9 L301.1 1489.9 L303.9 1489.9 L306.8 1489.9 L309.6 1489.9 L312.4 1489.9 L315.2 1489.8 L318.0 1489.8 L320.8 1489.8 L323.6 1489.8 L326.4 1489.8 L329.2 1489.8 L332.0 1489.8 L334.8 1489.8 L337.6 1489.8 L340.5 1489.8 L343.3 1489.8 L346.1 1489.8 L348.9 1489.8 L351.7 1489.8 L354.5 1489.8 L357.3 1489.8 L360.1 1489.8 L362.9 1489.8 L365.7 1489.8 L368.5 1489.8 L371.3 1489.8 L374.1 1489.8 L376.9 1489.8 L379.7 1489.8 L382.6 1489.8 L385.4 1489.8 L388.2 1489.8 L391.0 1489.8 L393.8 1489.8 L396.6 1489.8 L399.4 1489.8 L402.2 1489.8 L405.0 1489.8 L407.8 1489.8 L410.6 1489.8 L413.4 1489.9 L416.2 1489.9 L419.0 1489.9 L421.8 1489.9 L424.6 1489.9 L427.4 1489.9 L430.2 1489.9 L433.1 1489.9 L435.9 1489.9 L438.7 1489.9 L441.5 1489.9 L444.3 1489.9 L447.1 1489.9 L449.9 1489.9 L452.7 1489.9 L455.5 1489.9 L458.3 1489.9 L461.1 1489.9 L463.9 1489.9 L466.7 1489.9 L469.5 1489.9 L472.3 1490.0 L475.1 1490.0 L477.9 1490.0 L480.7 1490.0 L483.5 1490.0 L486.3 1490.0 L489.2 1490.0 L492.0 1490.0 L494.8 1490.0 L497.6 1490.0 L500.4 1490.0 L503.2 1490.0 L506.0 1490.0 L508.8 1490.0 L511.6 1490.0 L514.4 1490.0 L517.2 1490.0 L520.0 1490.1 L522.8 1490.1 L525.6 1490.1 L528.4 1490.1 L531.2 1490.1 L534.0 1490.1 L536.8 1490.1 L539.6 1490.1 L542.4 1490.1 L545.2 1490.1 L548.0 1490.1 L550.9 1490.1 L553.7 1490.1 L556.5 1490.1 L559.3 1490.1 L562.1 1490.1 L564.9 1490.1 L567.7 1490.1 L570.5 1490.2 L573.3 1490.2 L576.1 1490.2 L578.9 1490.2 L581.7 1490.2 L584.5 1490.2 L587.3 1490.2 L590.1 1490.2 L592.9 1490.2 L595.7 1490.2 L598.5 1490.2 L601.3 1490.2 L604.1 1490.2 L607.0 1490.2 L609.8 1490.2 L612.6 1490.2 L615.4 1490.2 L618.2 1490.2 L621.0 1490.2 L623.8 1490.2 L626.6 1490.2 L629.4 1490.2 L632.2 1490.2 L635.0 1490.2 L637.8 1490.2 L640.6 1490.2 L643.4 1490.2 L646.2 1490.2 L649.0 1490.3 L651.8 1490.3 L654.7 1490.3 L657.5 1490.3 L660.3 1490.3 L663.1 1490.3 L665.9 1490.3 L668.7 1490.3 L671.5 1490.3 L674.3 1490.3 L677.1 1490.3 L679.9 1490.3 L682.7 1490.3 L685.5 1490.3 L688.3 1490.3 L691.1 1490.3 L693.9 1490.3 L696.7 1490.3 L699.5 1490.3 L702.4 1490.3 L705.2 1490.3 L708.0 1490.3 L710.8 1490.3 L713.6 1490.3 L716.4 1490.3 L719.2 1490.3 L722.0 1490.3 L724.8 1490.3 L727.6 1490.3 L730.4 1490.3 L733.2 1490.3 L736.0 1490.3 L738.8 1490.3 L741.6 1490.3 L744.4 1490.3 L747.3 1490.3 L750.1 1490.3 L752.9 1490.3 L755.7 1490.3 L758.5 1490.3 L761.3 1490.3 L764.1 1490.3 L766.9 1490.3 L769.7 1490.3 L772.5 1490.3 L775.3 1490.3 L778.1 1490.3 L780.9 1490.3 L783.7 1490.3 L786.5 1490.3 L789.3 1490.3 L792.1 1490.3 L795.0 1490.3 L797.8 1490.3 L800.6 1490.3 L803.4 1490.3 L806.2 1490.3 L809.0 1490.3 L811.8 1490.3 L814.6 1490.3 L817.4 1490.3 L820.2 1490.3 L823.0 1490.4 L825.8 1490.4 L828.6 1490.4 L831.4 1490.4 L834.2 1490.4 L837.0 1490.4 L839.8 1490.4 L842.6 1490.4 L845.5 1490.4 L848.3 1490.4 L851.1 1490.4 L853.9 1490.4 L856.7 1490.4 L859.5 1490.4 L862.3 1490.4 L865.1 1490.4 L867.9 1490.4 L870.7 1490.4 L873.5 1490.4 L876.3 1490.4 L879.1 1490.4 L881.9 1490.4 L884.7 1490.5 L887.5 1490.5 L890.3 1490.5 L893.1 1490.5 L895.9 1490.5 L898.7 1490.5 L901.6 1490.5 L904.4 1490.5 L907.2 1490.5 L910.0 1490.5 L912.8 1490.5 L915.6 1490.5 L918.4 1490.5 L921.2 1490.5 L924.0 1490.6" fill="none" stroke="#00FF00" stroke-width="2.4" stroke-dasharray="2.5 11" stroke-linejoin="round"/>
<path d="M105.7 1124.6 L106.0 1127.3 L106.3 1130.1 L106.6 1132.8 L106.9 1135.5 L107.2 1138.3 L107.5 1141.0 L107.8 1143.8 L108.1 1146.6 L108.4 1149.3 L108.7 1152.1 L109.0 1154.8 L109.3 1157.6 L109.6 1160.3 L109.9 1163.1 L110.2 1165.9 L110.6 1168.6 L110.9 1171.4 L111.2 1174.2 L111.5 1177.0 L111.8 1179.7 L112.1 1182.5 L112.4 1185.3 L112.8 1188.0 L113.1 1190.8 L113.4 1193.6 L113.7 1196.4 L114.1 1199.1 L114.4 1201.9 L114.7 1204.7 L115.0 1207.5 L115.4 1210.2 L115.7 1213.0 L116.0 1215.8 L116.4 1218.6 L116.7 1221.3 L117.0 1224.1 L117.4 1226.9 L117.7 1229.7 L118.0 1232.4 L118.4 1235.2 L118.7 1238.0 L119.0 1240.7 L119.4 1243.5 L119.7 1246.3 L120.1 1249.0 L120.4 1251.8 L120.8 1254.6 L121.1 1257.3 L121.5 1260.1 L121.8 1262.8 L122.2 1265.6 L122.5 1268.3 L122.9 1271.1 L123.2 1273.8 L123.6 1276.6 L123.9 1279.3 L124.3 1282.1 L124.7 1284.8 L125.0 1287.6 L125.4 1290.3 L125.8 1293.1 L126.2 1295.8 L126.5 1298.6 L126.9 1301.3 L127.3 1304.0 L127.7 1306.8 L128.1 1309.5 L128.5 1312.3 L128.9 1315.0 L129.3 1317.7 L129.7 1320.5 L130.1 1323.2 L130.5 1326.0 L130.9 1328.7 L131.3 1331.4 L131.8 1334.2 L132.2 1336.9 L132.6 1339.7 L133.1 1342.4 L133.5 1345.1 L134.0 1347.9 L134.4 1350.6 L134.9 1353.4 L135.4 1356.1 L135.8 1358.9 L136.3 1361.6 L136.8 1364.4 L137.3 1367.1 L137.8 1369.9 L138.3 1372.6 L138.8 1375.4 L139.3 1378.1 L139.8 1380.9 L140.4 1383.7 L140.9 1386.4 L141.5 1389.2 L142.0 1391.9 L142.6 1394.7 L143.1 1397.5 L143.7 1400.2 L144.3 1403.0 L144.9 1405.7 L145.6 1408.5 L146.2 1411.2 L146.9 1414.0 L147.6 1416.7 L148.4 1419.4 L149.1 1422.1 L149.9 1424.8 L150.8 1427.5 L151.7 1430.1 L152.6 1432.7 L153.6 1435.3 L154.6 1437.9 L155.6 1440.5 L156.7 1443.0 L157.9 1445.5 L159.1 1448.0 L160.4 1450.5 L161.7 1452.9 L163.1 1455.3 L164.6 1457.6 L166.1 1459.9 L167.7 1462.2 L169.4 1464.4 L171.1 1466.5 L172.9 1468.5 L174.8 1470.4 L176.8 1472.3 L178.9 1474.0 L181.0 1475.6 L183.2 1477.1 L185.5 1478.5 L187.9 1479.8 L190.3 1481.0 L192.8 1482.1 L195.3 1483.2 L197.8 1484.1 L200.4 1484.9 L203.1 1485.7 L205.7 1486.4 L208.4 1487.0 L211.1 1487.6 L213.8 1488.1 L216.5 1488.6 L219.2 1488.9 L222.0 1489.3 L224.7 1489.6 L227.5 1489.8 L230.3 1490.0 L233.0 1490.1 L235.8 1490.3 L238.6 1490.3 L241.4 1490.4 L244.3 1490.4 L247.1 1490.4 L249.9 1490.4 L252.7 1490.4 L255.6 1490.3 L258.4 1490.3 L261.2 1490.2 L264.1 1490.1 L266.9 1490.0 L269.7 1490.0 L272.5 1489.9 L275.4 1489.8 L278.2 1489.8 L281.0 1489.7 L283.8 1489.7 L286.6 1489.6 L289.4 1489.6 L292.2 1489.6 L295.0 1489.5 L297.8 1489.5 L300.6 1489.5 L303.4 1489.5 L306.2 1489.5 L309.0 1489.5 L311.7 1489.5 L314.5 1489.5 L317.3 1489.5 L320.1 1489.5 L322.9 1489.5 L325.7 1489.5 L328.4 1489.5 L331.2 1489.5 L334.0 1489.6 L336.8 1489.6 L339.5 1489.6 L342.3 1489.6 L345.1 1489.6 L347.9 1489.6 L350.6 1489.7 L353.4 1489.7 L356.2 1489.7 L359.0 1489.7 L361.7 1489.7 L364.5 1489.7 L367.3 1489.7 L370.1 1489.8 L372.9 1489.8 L375.6 1489.8 L378.4 1489.8 L381.2 1489.8 L384.0 1489.8 L386.8 1489.8 L389.5 1489.8 L392.3 1489.9 L395.1 1489.9 L397.9 1489.9 L400.6 1489.9 L403.4 1489.9 L406.2 1489.9 L409.0 1489.9 L411.8 1489.9 L414.5 1489.9 L417.3 1490.0 L420.1 1490.0 L422.9 1490.0 L425.7 1490.0 L428.4 1490.0 L431.2 1490.0 L434.0 1490.0 L436.8 1490.0 L439.6 1490.0 L442.4 1490.0 L445.1 1490.0 L447.9 1490.0 L450.7 1490.1 L453.5 1490.1 L456.3 1490.1 L459.0 1490.1 L461.8 1490.1 L464.6 1490.1 L467.4 1490.1 L470.2 1490.1 L473.0 1490.1 L475.7 1490.1 L478.5 1490.1 L481.3 1490.1 L484.1 1490.1 L486.9 1490.1 L489.6 1490.1 L492.4 1490.1 L495.2 1490.1 L498.0 1490.1 L500.8 1490.2 L503.6 1490.2 L506.3 1490.2 L509.1 1490.2 L511.9 1490.2 L514.7 1490.2 L517.5 1490.2 L520.3 1490.2 L523.0 1490.2 L525.8 1490.2 L528.6 1490.2 L531.4 1490.2 L534.2 1490.2 L537.0 1490.2 L539.8 1490.2 L542.5 1490.2 L545.3 1490.2 L548.1 1490.2 L550.9 1490.2 L553.7 1490.2 L556.5 1490.2 L559.2 1490.2 L562.0 1490.2 L564.8 1490.2 L567.6 1490.2 L570.4 1490.2 L573.2 1490.2 L576.0 1490.2 L578.7 1490.2 L581.5 1490.2 L584.3 1490.2 L587.1 1490.2 L589.9 1490.2 L592.7 1490.2 L595.5 1490.2 L598.2 1490.2 L601.0 1490.2 L603.8 1490.2 L606.6 1490.2 L609.4 1490.2 L612.2 1490.2 L614.9 1490.2 L617.7 1490.2 L620.5 1490.2 L623.3 1490.2 L626.1 1490.2 L628.9 1490.2 L631.7 1490.2 L634.4 1490.2 L637.2 1490.2 L640.0 1490.2 L642.8 1490.2 L645.6 1490.2 L648.4 1490.2 L651.2 1490.2 L653.9 1490.2 L656.7 1490.2 L659.5 1490.2 L662.3 1490.2 L665.1 1490.2 L667.9 1490.2 L670.7 1490.2 L673.4 1490.2 L676.2 1490.2 L679.0 1490.2 L681.8 1490.2 L684.6 1490.2 L687.4 1490.2 L690.2 1490.2 L692.9 1490.2 L695.7 1490.2 L698.5 1490.2 L701.3 1490.2 L704.1 1490.2 L706.9 1490.2 L709.7 1490.2 L712.4 1490.2 L715.2 1490.2 L718.0 1490.2 L720.8 1490.2 L723.6 1490.2 L726.4 1490.2 L729.2 1490.2 L731.9 1490.2 L734.7 1490.2 L737.5 1490.2 L740.3 1490.2 L743.1 1490.2 L745.9 1490.2 L748.7 1490.2 L751.4 1490.2 L754.2 1490.3 L757.0 1490.3 L759.8 1490.3 L762.6 1490.3 L765.4 1490.3 L768.1 1490.3 L770.9 1490.3 L773.7 1490.3 L776.5 1490.3 L779.3 1490.3 L782.1 1490.3 L784.8 1490.3 L787.6 1490.3 L790.4 1490.3 L793.2 1490.3 L796.0 1490.3 L798.8 1490.3 L801.5 1490.3 L804.3 1490.3 L807.1 1490.3 L809.9 1490.3 L812.7 1490.3 L815.5 1490.3 L818.2 1490.3 L821.0 1490.3 L823.8 1490.3 L826.6 1490.3 L829.4 1490.3 L832.2 1490.3 L834.9 1490.4 L837.7 1490.4 L840.5 1490.4 L843.3 1490.4 L846.1 1490.4 L848.9 1490.4 L851.6 1490.4 L854.4 1490.4 L857.2 1490.4 L860.0 1490.4 L862.8 1490.4 L865.5 1490.4 L868.3 1490.4 L871.1 1490.4 L873.9 1490.4 L876.7 1490.5 L879.4 1490.5 L882.2 1490.5 L885.0 1490.5 L887.8 1490.5 L890.6 1490.5 L893.4 1490.5 L896.1 1490.5 L898.9 1490.5 L901.7 1490.5 L904.5 1490.6 L907.2 1490.6 L910.0 1490.6 L912.8 1490.6 L915.6 1490.6 L918.4 1490.6 L921.1 1490.6 L923.9 1490.6" fill="none" stroke="#FF0000" stroke-width="2.4" stroke-dasharray="11 11" stroke-linejoin="round"/>
<path d="M105.5 1149.2 L105.8 1151.8 L106.1 1154.5 L106.4 1157.2 L106.7 1159.9 L107.0 1162.5 L107.3 1165.2 L107.6 1167.9 L107.9 1170.6 L108.3 1173.3 L108.6 1176.0 L108.9 1178.7 L109.3 1181.5 L109.6 1184.2 L110.0 1186.9 L110.3 1189.6 L110.7 1192.3 L111.0 1195.1 L111.4 1197.8 L111.7 1200.5 L112.1 1203.2 L112.5 1206.0 L112.8 1208.7 L113.2 1211.4 L113.6 1214.1 L113.9 1216.9 L114.3 1219.6 L114.7 1222.3 L115.1 1225.1 L115.4 1227.8 L115.8 1230.5 L116.2 1233.2 L116.6 1236.0 L116.9 1238.7 L117.3 1241.4 L117.7 1244.1 L118.0 1246.8 L118.4 1249.6 L118.8 1252.3 L119.1 1255.0 L119.5 1257.7 L119.9 1260.4 L120.2 1263.1 L120.6 1265.8 L121.0 1268.5 L121.3 1271.2 L121.7 1273.9 L122.0 1276.6 L122.4 1279.3 L122.8 1282.0 L123.1 1284.7 L123.5 1287.3 L123.8 1290.0 L124.2 1292.7 L124.5 1295.4 L124.9 1298.1 L125.3 1300.8 L125.6 1303.5 L126.0 1306.2 L126.3 1308.9 L126.7 1311.5 L127.1 1314.2 L127.4 1316.9 L127.8 1319.6 L128.1 1322.3 L128.5 1325.0 L128.9 1327.7 L129.2 1330.4 L129.6 1333.1 L130.0 1335.8 L130.4 1338.5 L130.7 1341.2 L131.1 1343.9 L131.5 1346.6 L131.9 1349.3 L132.2 1352.0 L132.6 1354.7 L133.0 1357.4 L133.4 1360.1 L133.8 1362.8 L134.2 1365.6 L134.6 1368.3 L135.0 1371.0 L135.4 1373.7 L135.8 1376.5 L136.2 1379.2 L136.6 1381.9 L137.0 1384.7 L137.5 1387.4 L137.9 1390.2 L138.3 1392.9 L138.8 1395.7 L139.2 1398.4 L139.7 1401.2 L140.2 1403.9 L140.7 1406.7 L141.2 1409.4 L141.7 1412.2 L142.3 1414.9 L142.9 1417.6 L143.5 1420.3 L144.2 1423.0 L144.9 1425.6 L145.7 1428.3 L146.5 1430.9 L147.3 1433.5 L148.2 1436.1 L149.2 1438.6 L150.2 1441.1 L151.2 1443.6 L152.4 1446.1 L153.5 1448.5 L154.8 1451.0 L156.1 1453.3 L157.5 1455.6 L159.0 1457.9 L160.5 1460.1 L162.1 1462.3 L163.8 1464.4 L165.5 1466.4 L167.3 1468.4 L169.2 1470.3 L171.2 1472.1 L173.2 1473.8 L175.3 1475.4 L177.4 1476.9 L179.6 1478.4 L181.9 1479.7 L184.2 1481.0 L186.5 1482.1 L188.9 1483.2 L191.4 1484.2 L193.8 1485.0 L196.3 1485.8 L198.9 1486.5 L201.5 1487.2 L204.1 1487.7 L206.7 1488.2 L209.4 1488.6 L212.1 1489.0 L214.8 1489.3 L217.6 1489.6 L220.3 1489.8 L223.1 1490.0 L225.9 1490.1 L228.7 1490.2 L231.5 1490.3 L234.3 1490.3 L237.1 1490.3 L239.9 1490.3 L242.7 1490.3 L245.6 1490.3 L248.4 1490.3 L251.2 1490.3 L254.0 1490.3 L256.8 1490.2 L259.6 1490.2 L262.4 1490.2 L265.1 1490.2 L267.9 1490.2 L270.7 1490.2 L273.4 1490.2 L276.2 1490.2 L278.9 1490.2 L281.7 1490.2 L284.4 1490.2 L287.2 1490.2 L289.9 1490.2 L292.6 1490.2 L295.4 1490.2 L298.1 1490.2 L300.8 1490.2 L303.5 1490.2 L306.3 1490.2 L309.0 1490.2 L311.7 1490.2 L314.4 1490.2 L317.2 1490.2 L319.9 1490.2 L322.6 1490.2 L325.3 1490.2 L328.1 1490.2 L330.8 1490.2 L333.5 1490.2 L336.2 1490.2 L339.0 1490.2 L341.7 1490.2 L344.4 1490.2 L347.1 1490.3 L349.9 1490.3 L352.6 1490.3 L355.3 1490.3 L358.0 1490.3 L360.8 1490.3 L363.5 1490.3 L366.2 1490.3 L368.9 1490.3 L371.7 1490.3 L374.4 1490.3 L377.1 1490.3 L379.8 1490.3 L382.6 1490.3 L385.3 1490.3 L388.0 1490.3 L390.8 1490.3 L393.5 1490.3 L396.2 1490.3 L398.9 1490.3 L401.7 1490.3 L404.4 1490.3 L407.1 1490.3 L409.9 1490.3 L412.6 1490.3 L415.3 1490.3 L418.1 1490.3 L420.8 1490.3 L423.5 1490.3 L426.2 1490.3 L429.0 1490.3 L431.7 1490.3 L434.4 1490.3 L437.2 1490.4 L439.9 1490.4 L442.6 1490.4 L445.4 1490.4 L448.1 1490.4 L450.8 1490.4 L453.6 1490.4 L456.3 1490.4 L459.0 1490.4 L461.8 1490.4 L464.5 1490.4 L467.2 1490.4 L470.0 1490.4 L472.7 1490.4 L475.4 1490.4 L478.2 1490.4 L480.9 1490.4 L483.6 1490.4 L486.4 1490.4 L489.1 1490.4 L491.8 1490.4 L494.6 1490.4 L497.3 1490.4 L500.0 1490.4 L502.8 1490.4 L505.5 1490.4 L508.2 1490.4 L511.0 1490.4 L513.7 1490.4 L516.4 1490.4 L519.2 1490.4 L521.9 1490.4 L524.6 1490.4 L527.4 1490.4 L530.1 1490.4 L532.8 1490.4 L535.6 1490.4 L538.3 1490.4 L541.1 1490.4 L543.8 1490.4 L546.5 1490.4 L549.3 1490.4 L552.0 1490.4 L554.7 1490.4 L557.5 1490.4 L560.2 1490.4 L562.9 1490.4 L565.7 1490.4 L568.4 1490.4 L571.2 1490.4 L573.9 1490.4 L576.6 1490.4 L579.4 1490.4 L582.1 1490.4 L584.8 1490.4 L587.6 1490.4 L590.3 1490.4 L593.0 1490.4 L595.8 1490.4 L598.5 1490.4 L601.3 1490.4 L604.0 1490.4 L606.7 1490.4 L609.5 1490.4 L612.2 1490.4 L614.9 1490.4 L617.7 1490.4 L620.4 1490.4 L623.2 1490.4 L625.9 1490.4 L628.6 1490.4 L631.4 1490.4 L634.1 1490.4 L636.8 1490.4 L639.6 1490.4 L642.3 1490.4 L645.0 1490.4 L647.8 1490.4 L650.5 1490.4 L653.3 1490.4 L656.0 1490.4 L658.7 1490.4 L661.5 1490.4 L664.2 1490.4 L666.9 1490.4 L669.7 1490.4 L672.4 1490.4 L675.2 1490.4 L677.9 1490.4 L680.6 1490.4 L683.4 1490.4 L686.1 1490.4 L688.8 1490.4 L691.6 1490.4 L694.3 1490.4 L697.1 1490.4 L699.8 1490.4 L702.5 1490.4 L705.3 1490.4 L708.0 1490.4 L710.7 1490.4 L713.5 1490.4 L716.2 1490.4 L718.9 1490.4 L721.7 1490.4 L724.4 1490.4 L727.2 1490.4 L729.9 1490.4 L732.6 1490.4 L735.4 1490.4 L738.1 1490.4 L740.8 1490.4 L743.6 1490.4 L746.3 1490.4 L749.0 1490.4 L751.8 1490.4 L754.5 1490.4 L757.2 1490.4 L760.0 1490.4 L762.7 1490.4 L765.5 1490.4 L768.2 1490.4 L770.9 1490.4 L773.7 1490.4 L776.4 1490.4 L779.1 1490.4 L781.9 1490.4 L784.6 1490.4 L787.3 1490.4 L790.1 1490.4 L792.8 1490.4 L795.5 1490.4 L798.3 1490.4 L801.0 1490.4 L803.7 1490.4 L806.5 1490.4 L809.2 1490.4 L811.9 1490.4 L814.7 1490.5 L817.4 1490.5 L820.1 1490.5 L822.9 1490.5 L825.6 1490.5 L828.3 1490.5 L831.1 1490.5 L833.8 1490.5 L836.5 1490.5 L839.3 1490.5 L842.0 1490.5 L844.7 1490.5 L847.5 1490.5 L850.2 1490.5 L852.9 1490.5 L855.7 1490.5 L858.4 1490.5 L861.1 1490.5 L863.8 1490.5 L866.6 1490.5 L869.3 1490.5 L872.0 1490.5 L874.8 1490.5 L877.5 1490.5 L880.2 1490.5 L883.0 1490.5 L885.7 1490.5 L888.4 1490.5 L891.1 1490.5 L893.9 1490.5 L896.6 1490.5 L899.3 1490.5 L902.1 1490.5 L904.8 1490.5 L907.5 1490.5 L910.2 1490.5 L913.0 1490.5 L915.7 1490.5 L918.4 1490.5 L921.2 1490.5 L923.9 1490.5" fill="none" stroke="#000000" stroke-width="2.2" stroke-linejoin="round"/>
<rect x="775.5" y="841.5" width="138" height="170" fill="#fff" stroke="#000" stroke-width="1"/>
<line x1="778" y1="857" x2="828" y2="857" stroke="#000000" stroke-width="2.2"/>
<text x="833.5" y="864.0" font-family="Liberation Serif, serif" font-size="21" font-weight="bold" font-style="italic">θ = 0°</text>
<line x1="778" y1="885" x2="828" y2="885" stroke="#FF0000" stroke-width="2.4" stroke-dasharray="11 11"/>
<text x="833.5" y="892.0" font-family="Liberation Serif, serif" font-size="21" font-weight="bold" font-style="italic">θ = 60°</text>
<line x1="778" y1="913" x2="828" y2="913" stroke="#00FF00" stroke-width="2.4" stroke-dasharray="2.5 11"/>
<text x="833.5" y="920.0" font-family="Liberation Serif, serif" font-size="21" font-weight="bold" font-style="italic">θ = 90°</text>
<line x1="778" y1="940" x2="828" y2="940" stroke="#0000FF" stroke-width="2.4" stroke-dasharray="13 6 2 7"/>
<text x="833.5" y="947.0" font-family="Liberation Serif, serif" font-size="21" font-weight="bold" font-style="italic">θ = 120°</text>
<line x1="778" y1="968.5" x2="828" y2="968.5" stroke="#FF00FF" stroke-width="3.6" stroke-dasharray="8 6"/>
<text x="833.5" y="975.5" font-family="Liberation Serif, serif" font-size="21" font-weight="bold" font-style="italic">θ = 150°</text>
<line x1="778" y1="997" x2="828" y2="997" stroke="#FF8000" stroke-width="1.9" stroke-dasharray="1.5 3.0"/>
<text x="833.5" y="1004.0" font-family="Liberation Serif, serif" font-size="21" font-weight="bold" font-style="italic">θ = 165°</text>
<text transform="translate(387.50 1612.80) scale(1 1)" font-family="Liberation Serif, serif" font-size="36">(b)</text>
<text transform="translate(448.50 1612.80) scale(0.93 1)" font-family="Liberation Serif, serif" font-size="36" font-style="italic">Gr</text>
<rect x="500.1" y="1598" width="22.2" height="2.4" fill="#000"/>
<rect x="500.1" y="1605.2" width="22.2" height="2.4" fill="#000"/>
<text transform="translate(534.30 1612.80) scale(1.05 1)" font-family="Liberation Serif, serif" font-size="37">10</text>
<text transform="translate(576.50 1599.80) scale(0.85 1)" font-family="Liberation Serif, serif" font-size="26.5">7</text>
</svg>
</body></html>
